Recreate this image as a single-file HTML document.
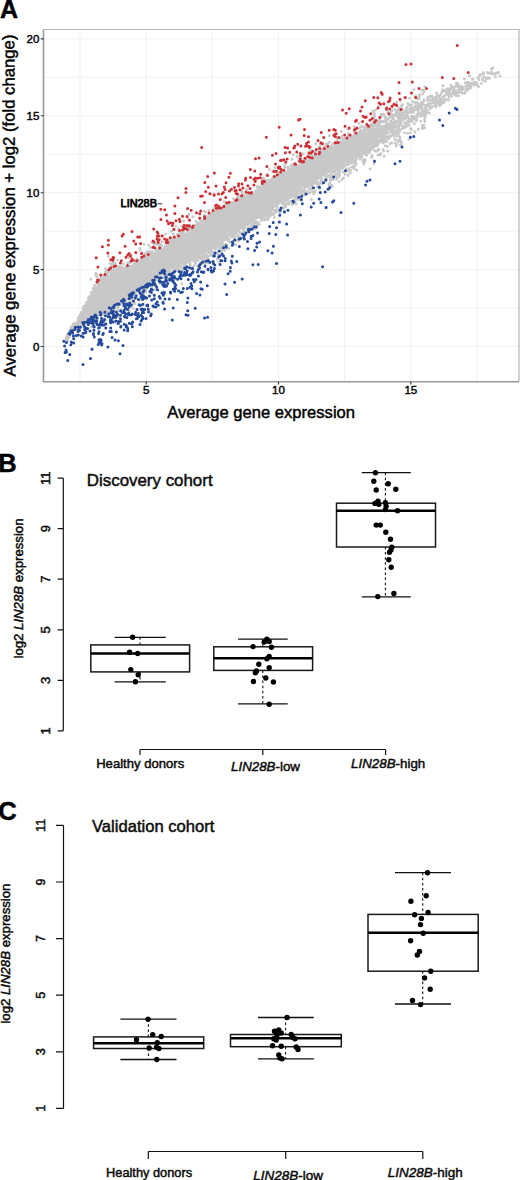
<!DOCTYPE html>
<html><head><meta charset="utf-8"><style>html,body{margin:0;padding:0;background:#fff;width:520px;height:1180px;overflow:hidden}svg{display:block}svg,text{font-family:"Liberation Sans",sans-serif}text{stroke:#000;stroke-width:.45px;stroke-linejoin:round}</style></head>
<body><svg width="520" height="1180" viewBox="0 0 520 1180">
<path d="M43.5 346.5H519M43.5 308.1H519M43.5 269.6H519M43.5 231.1H519M43.5 192.7H519M43.5 154.2H519M43.5 115.8H519M43.5 77.3H519M43.5 38.9H519M80 29.5V381.8M146.2 29.5V381.8M212.3 29.5V381.8M278.5 29.5V381.8M344.6 29.5V381.8M410.8 29.5V381.8M476.9 29.5V381.8" stroke="#f1f1f1" stroke-width="1" fill="none"/>
<polygon points="68,336.7 70,333.2 72,330.5 74,327.8 76,325.1 78,321.6 80,317.4 82,313.3 84,309.4 86,305.9 88,302.4 90,298.9 92,295.2 94,291.2 96,287.6 98,285.3 100,282.9 102,280.8 104,279.4 106,277.9 108,276.4 110,274.9 112,274.1 114,273.8 116,273.5 118,273.3 120,272.7 122,272 124,271.3 126,270.6 128,269.9 130,269.2 132,268.1 134,266.9 136,265.8 138,264.7 140,263.5 142,262.4 144,261.3 146,260.1 148,258.9 150,257.8 152,256.6 154,255.5 156,254.4 158,253.3 160,252.2 162,251 164,249.5 166,248 168,246.6 170,245.2 172,243.9 174,242.6 176,241.3 178,240 180,238.7 182,237.4 184,236.1 186,234.8 188,233.6 190,232.3 192,231 194,229.7 196,228.2 198,226.8 200,225.3 202,223.8 204,222.3 206,220.9 208,219.4 210,217.9 212,216.5 214,215.5 216,214.4 218,213.4 220,212.3 222,211.3 224,210.2 226,209.2 228,208.2 230,207.3 232,206.3 234,205.3 236,204.3 238,203.4 240,202.4 242,201.4 244,200.4 246,199.3 248,198.3 250,197.3 252,196.2 254,195.2 256,193.9 258,192.4 260,190.9 262,189.4 264,187.9 266,186.4 268,184.9 270,183.4 272,181.9 274,180.7 276,179.6 278,178.5 280,177.4 282,176.3 284,175.2 286,174.1 288,173 290,171.9 292,170.8 294,169.7 296,168.8 298,167.9 300,167 302,166.1 304,165.3 306,164.4 308,163.5 310,162.6 312,161.6 314,160.4 316,159.2 318,158 320,156.8 322,155.6 324,154.4 326,153.2 328,152.1 330,151 332,149.9 334,148.8 336,147.7 338,146.6 340,145.5 342,144.4 344,143.4 346,142.4 348,141.3 350,140.3 352,139.3 354,138.2 356,137.2 358,136.1 360,134.8 362,133.9 364,133 366,132.1 368,131.3 370,130.4 372,129.5 374,128.6 376,127.7 378,126.9 380,126.2 382,125.4 384,124.6 386,123.9 388,123.1 390,122.3 392,121.5 394,120.7 396,119.9 398,119.1 400,118.3 402,117.6 404,116.8 406,116 408,115.2 410,114.4 410,114.4 408,115.8 406,117.2 404,118.7 402,120.1 400,121.6 398,123.1 396,124.6 394,126.2 392,127.7 390,129.3 388,130.8 386,132.4 384,134 382,135.5 380,137.1 378,138.7 376,140.3 374,142 372,143.7 370,145.4 368,147.1 366,148.7 364,150.4 362,152.1 360,153.8 358,155.1 356,156.3 354,157.3 352,158.4 350,159.4 348,160.4 346,161.5 344,162.5 342,163.5 340,164.3 338,165 336,165.8 334,166.5 332,167.2 330,167.9 328,168.6 326,169.3 324,170.6 322,171.8 320,173.1 318,174.4 316,175.6 314,176.9 312,178.2 310,179.5 308,180.8 306,182.1 304,183.4 302,184.7 300,186 298,187.3 296,188.6 294,189.9 292,191.1 290,192.4 288,193.6 286,194.8 284,196.1 282,197.3 280,198.5 278,199.7 276,201 274,202.2 272,203.5 270,204.8 268,206.1 266,207.5 264,208.8 262,210.1 260,211.5 258,212.8 256,214.1 254,215.5 252,216.8 250,218.1 248,219.5 246,220.8 244,222.1 242,223.5 240,224.8 238,226.3 236,227.7 234,229.2 232,230.6 230,232.1 228,233.6 226,235 224,236.5 222,237.9 220,239.4 218,240.8 216,242.2 214,243.6 212,245 210,246.5 208,247.9 206,249.3 204,250.4 202,251.6 200,252.7 198,253.8 196,255 194,256.1 192,257.2 190,258.3 188,259.2 186,260.1 184,261.1 182,262 180,262.9 178,263.8 176,264.6 174,265.3 172,265.9 170,266.6 168,267.2 166,267.8 164,268.5 162,269.7 160,271.5 158,273.4 156,275.2 154,277 152,278.9 150,280.7 148,282.5 146,283.8 144,284.9 142,286.1 140,287.2 138,288.4 136,289.5 134,290.7 132,291.8 130,293.3 128,294.7 126,296.2 124,297.7 122,299.1 120,300.6 118,302.1 116,303.3 114,304.2 112,305.1 110,306 108,306.9 106,307.8 104,308.7 102,309.6 100,310.7 98,311.8 96,313 94,314.2 92,315.3 90,316.5 88,317.6 86,318.8 84,320.1 82,321.4 80,322.7 78,324.1 76,325.4 74,326.7 72,328 70,330.3 68,334.1" fill="#c8c8c8"/>
<path d="M406.4 110h0M335.5 147.4h0M357.7 134.5h0M311.1 180.9h0M279.5 209.2h0M244.2 195.5h0M324.8 171h0M88.3 298.6h0M192.6 230.8h0M209 248h0M242.7 194h0M264.4 220h0M436.7 93.2h0M311.7 158.6h0M232.2 233.1h0M131.9 301.4h0M221.7 235.6h0M265.9 188.8h0M133.7 264.2h0M296.6 191.1h0M415.3 118.5h0M247.5 231.1h0M331.2 148.3h0M271.8 208h0M280.7 208.8h0M216.1 213h0M389.5 126.3h0M338.8 168.2h0M464.4 79.1h0M100.1 279.3h0M339.2 166.8h0M133.1 290.4h0M403 115.6h0M201.9 249h0M270.7 181.5h0M104.2 276h0M150.1 283.5h0M283.6 173.4h0M87.8 319.8h0M126.6 298.7h0M115.9 301.4h0M203.3 224.4h0M226.3 209.8h0M100 283.3h0M108.2 311.2h0M371.6 148.3h0M261.9 212h0M491 73.8h0M293.4 170.5h0M193.1 228.9h0M84.8 320h0M114.4 265.9h0M206.4 257.3h0M409 112.4h0M427 110.5h0M381.9 139.1h0M77.7 326.5h0M329.9 176.5h0M122.5 273.2h0M465.8 91h0M353.8 137.6h0M435 101.4h0M247.2 220.1h0M182 240.5h0M167.5 278.7h0M274.8 177h0M138.9 285.9h0M228.3 240.7h0M83.5 306.8h0M206 219.9h0M167.7 241.4h0M428 97.4h0M339.7 172.4h0M235.8 228.5h0M237.3 204.5h0M398 124.6h0M363.9 164h0M235.5 231h0M232.9 208.7h0M102.5 321.4h0M159.4 251.3h0M388.5 138.7h0M81.8 314.8h0M211.4 248.6h0M244.3 231.5h0M330.5 169.4h0M135 303.7h0M311.9 178.9h0M188.6 258.1h0M381.9 133.7h0M389.6 136.8h0M347.3 161.5h0M390.2 112.7h0M174.5 265.9h0M129.3 298h0M83.6 311.9h0M395.9 113.6h0M183.7 221.3h0M202.4 250.3h0M216.1 244.7h0M77.7 325.7h0M139.9 288.8h0M271.8 181h0M126.8 266.6h0M488.2 73.3h0M394.9 139.5h0M233.6 203.3h0M107.1 276h0M83.9 306.7h0M138.9 288.4h0M223.4 236.8h0M415.9 105.7h0M104.3 308.8h0M163.9 277.7h0M68.5 337.9h0M347.9 142h0M212.9 255.7h0M92.2 323.4h0M334.7 149.8h0M73.6 327.4h0M204.7 220.6h0M469.3 85.6h0M172.7 266.3h0M203.1 223.3h0M167.3 265.1h0M228.3 208.7h0M150.8 284.1h0M297.5 156.1h0M123.3 297.3h0M332.3 186.4h0M289.6 193.6h0M192.5 257h0M78.3 317.9h0M324.2 169.5h0M353 138.2h0M105.4 308.4h0M186.4 236h0M312 157.8h0M350.4 159.4h0M198.9 228.6h0M302.4 185.8h0M285.4 194.1h0M302.9 193.5h0M116.7 269.9h0M120.7 267.9h0M134 297h0M123.9 268.5h0M212.6 251.6h0M127.2 269.7h0M392.6 119.1h0M391.1 132h0M306.9 161.9h0M192.1 227.9h0M148.4 281.3h0M343.2 172h0M380 132h0M146.4 261.8h0M404.7 97.4h0M142.4 285.9h0M384.8 141.6h0M279.2 197.4h0M174.7 241.4h0M119.1 273.4h0M488.4 77.9h0M178.1 266.8h0M165.9 243.4h0M316.1 178.1h0M326 180.7h0M342.8 145.3h0M200.3 225.1h0M79.1 321.8h0M103.3 282h0M393.8 119.2h0M232.2 228.4h0M231.6 231.1h0M122.9 300.9h0M425.2 111.3h0M295.1 192.5h0M494.2 74h0M201.3 223h0M269.2 169.6h0M91.1 293.1h0M409.9 119.4h0M113.6 308.9h0M375.9 121.9h0M96.8 315.2h0M497.9 72.8h0M231.6 203h0M238.6 228.2h0M304.5 187.5h0M67.5 335.5h0M260.7 217.7h0M363.4 150.6h0M358.3 133.7h0M150.4 283.7h0M242 226.8h0M388.6 125.8h0M267.2 184.1h0M273.3 204.9h0M157.6 253.1h0M149 254.5h0M374.8 126.2h0M161 267.7h0M410.9 107.4h0M386.9 110h0M106.8 276.2h0M469.5 75.9h0M256.2 195.1h0M102.9 310.7h0M183.3 233.2h0M73.3 328.9h0M196.6 259h0M207 249.1h0M117.5 260h0M371.2 148.3h0M113.6 312.1h0M252.4 221.8h0M336.8 169.1h0M195.6 263.5h0M209.7 219.7h0M284.3 210.9h0M108.2 310.9h0M102 318.6h0M246.5 197.8h0M252 217.7h0M266.2 206.6h0M381.5 116.5h0M167.7 248.2h0M285.9 196.4h0M361.1 152.1h0M152.2 251.4h0M325.7 151.9h0M325 152.2h0M91.3 299.1h0M181.5 267.8h0M264 216.4h0M174.4 264.5h0M379.5 124.6h0M131.2 294.9h0M291.8 168.9h0M103.5 280.2h0M336 147.1h0M371.9 155.6h0M289 193.9h0M468.1 89.6h0M375.3 139.6h0M130.3 291.2h0M274.9 210.4h0M71.7 330.4h0M217.7 241.3h0M210.3 249.6h0M178.9 260.6h0M233.6 204.6h0M263 190.2h0M327.5 176.9h0M214.3 248.1h0M330.3 166.2h0M378.4 107h0M368.7 127.1h0M249.4 196.1h0M130.7 267.7h0M144.4 257.7h0M198.9 224.5h0M237.7 200.6h0M224 247h0M358 153.7h0M159.5 278.9h0M200 256.5h0M326.2 144.3h0M141.9 260.2h0M212.8 215.7h0M145.8 260.9h0M288.8 193.8h0M235.1 204.9h0M90 321.1h0M157.9 250.6h0M334.4 149.3h0M396.6 144.3h0M472.9 84.4h0M378.5 143.6h0M320.9 180.3h0M140.2 249.9h0M293.3 188.1h0M357.2 156.4h0M433.9 100.7h0M112.2 272.5h0M455.1 86.5h0M331.2 146.3h0M154.5 280.7h0M259.7 189.1h0M425.7 113.7h0M193.9 229.2h0M219.6 211.5h0M291.1 191.1h0M257.9 190.6h0M106.6 278.7h0M266 210.4h0M281 176.3h0M138.4 264.7h0M377 144.9h0M424.1 101h0M184.6 262.2h0M97.2 286.9h0M241.4 224.9h0M273.7 201.5h0M354.5 162.1h0M258.8 193.5h0M115.1 304.6h0M201.4 221.2h0M263 185h0M297.1 192.4h0M218.5 212.7h0M345.1 163.3h0M292.9 196h0M271.4 182.4h0M105.8 277h0M272.8 209.8h0M351.9 167.1h0M425.4 112.8h0M141.6 289.4h0M258.5 217h0M83.3 308.6h0M152.5 256.7h0M402 118.7h0M77.7 327.8h0M370.9 147.6h0M133.1 304.3h0M365.5 134.4h0M109.5 278.6h0M407.5 121.4h0M432.9 97.7h0M171.1 242.1h0M222 249.9h0M352.8 160.6h0M301.6 185.2h0M371.2 119.8h0M317.7 179.1h0M250.7 196.3h0M97.2 283h0M128.6 270h0M269.8 205.7h0M161.9 271.4h0M94.7 285.8h0M231.9 237.3h0M418.8 108.3h0M209.8 249.7h0M293.4 190.7h0M380.1 132h0M289.5 192.8h0M209 210.6h0M386.2 138h0M166.3 265.4h0M302 185.7h0M271.8 202.2h0M194.8 255.2h0M295.2 169.3h0M328.8 153.4h0M409.5 105.1h0M141.3 265.8h0M305.7 158.2h0M180 264.4h0M152.1 257.1h0M80.4 325.1h0M219.8 236.6h0M231.9 236.2h0M281 176.6h0M297.8 166.4h0M398.2 127.7h0M430.2 96.1h0M149 283.3h0M315.6 177.8h0M337 144.4h0M421.6 105.4h0M203 250.3h0M194.2 259.5h0M216.1 211h0M375.9 137.3h0M111.2 270.2h0M351.1 138.8h0M70.1 330.4h0M99.2 281.3h0M349.2 141.1h0M156.2 279.3h0M333.2 165.3h0M72 326.4h0M347.8 174.6h0M255.4 228.7h0M297.2 166.9h0M168.1 247.1h0M285.3 175.4h0M134.8 293h0M120.8 300.3h0M432.2 96.4h0M299.8 187.4h0M237.8 201.6h0M341.5 145h0M379.8 117.7h0M112.5 275h0M258 224.3h0M163 267.3h0M214 246.9h0M388.8 125.3h0M311.3 178.7h0M86 320.8h0M432.4 106.7h0M401.2 110.8h0M202.2 251.4h0M331.6 169.6h0M92.6 315.6h0M337.3 177.3h0M290.5 201.2h0M198 228.5h0M241.9 197h0M297.4 189.9h0M296.5 169.6h0M301.4 190.6h0M159.9 250.4h0M198.3 255.7h0M264.6 213.2h0M181.1 239.9h0M135.6 292.2h0M303.8 183.7h0M365.2 153.8h0M99.1 313.9h0M199.6 227.8h0M261.6 187.7h0M179.7 270.4h0M171.6 245h0M238.3 235.6h0M134.9 263.8h0M192.2 231.1h0M356.1 163.8h0M163.2 270.5h0M327.4 166.4h0M231.5 236.7h0M164.7 249h0M407.6 133.4h0M401.8 144.3h0M365.9 150.2h0M195.9 257.7h0M318.1 176.4h0M292.1 168.6h0M336.6 147.5h0M127.8 305.4h0M287.7 195.8h0M339.1 166h0M113.7 306.1h0M253.2 223.3h0M182.7 235.4h0M333.7 171.2h0M258.5 210.7h0M279.9 177.1h0M303.6 183.9h0M379.5 120.5h0M432.4 99.8h0M268.6 181.5h0M84.4 310.4h0M287.2 197.8h0M229.4 208.9h0M386.6 133.6h0M198 260.5h0M298.9 189.6h0M258.1 215.4h0M262.2 188.6h0M260.1 212.1h0M308.5 179.8h0M358.5 155.9h0M435.2 105.7h0M191.3 232.8h0M326.6 149.5h0M109 276.5h0M321.5 150.2h0M253.4 214.2h0M96.2 315h0M94.8 291h0M95.2 287.9h0M126.1 268h0M217.9 238.6h0M274.3 217.5h0M125.6 293.8h0M401.4 125.1h0M300.5 193.7h0M437.5 100.3h0M441.8 99.2h0M277.5 175.8h0M177.9 239.9h0M218.4 247.6h0M108.3 305.3h0M228.3 235.6h0M313.9 183.5h0M265.4 207.9h0M329.7 151.2h0M365.1 132.7h0M210.8 251.3h0M326.2 172.6h0M292.3 171.6h0M307.6 186.9h0M341 145h0M360.8 127h0M263.8 211.6h0M422.9 128.3h0M270.2 180h0M462.7 87.2h0M369 151h0M357.7 156.2h0M273.7 171h0M341.5 145.4h0M322.8 155.5h0M185.1 234.2h0M290.3 195.6h0M338.2 145.4h0M272.5 181.3h0M284.5 175.5h0M71.2 330.4h0M85.9 320.1h0M489.4 78.1h0M173.2 266.2h0M101.9 281.7h0M186.6 260.4h0M283 202.1h0M74.7 326.6h0M76.7 326.1h0M198 257.1h0M206.8 254.9h0M309 179.7h0M185.2 260.1h0M338 165.2h0M324.6 146.6h0M228.2 210h0M97 311.8h0M149.2 260.7h0M417.4 106.4h0M207.8 218.2h0M418.4 111.9h0M309.9 181.4h0M136.4 263.9h0M356.4 134.3h0M142.3 288.1h0M102.1 310.6h0M447.2 91.3h0M186.1 236.1h0M418.1 106.1h0M98 313.8h0M308.7 185.7h0M211.3 215.3h0M192.9 259h0M203.1 228.3h0M310.1 183.6h0M419.5 105.5h0M332.7 168.4h0M69.3 335.5h0M341.8 168.4h0M233.7 203.5h0M143.5 261.1h0M274.6 181.8h0M149.2 280.1h0M162.6 291.5h0M244.4 200.4h0M199.7 253.7h0M327.8 151.1h0M91.8 319.6h0M288.6 194.4h0M210.1 251.8h0M282.2 199.7h0M270.7 213.4h0M208.1 258.1h0M239.4 223.9h0M223.9 208.1h0M215.1 246.1h0M230.2 206.2h0M362.3 133h0M94.2 294.7h0M254.3 214.5h0M334.2 147.3h0M210 245.6h0M377.7 144.9h0M251.5 226.5h0M277 179.2h0M195.8 221.4h0M282.7 174.7h0M179.6 264h0M333.9 170.8h0M379.4 132.8h0M393 123.5h0M362.2 133.6h0M311.8 186.9h0M220.5 239.4h0M184.4 234.2h0M412.2 109.9h0M301 189.6h0M137.5 289.9h0M277 171.4h0M195.4 225.3h0M269 183.9h0M280.1 202.3h0M216.9 244.9h0M164.5 268.8h0M187.7 259.1h0M333.6 167.5h0M356.4 137.5h0M304.8 183.9h0M174.3 265.9h0M193.5 230.3h0M259.5 214.7h0M192.9 228.9h0M82.6 325.8h0M179.5 265.5h0M456.3 90.4h0M348.5 140.9h0M366.1 129.9h0M330.4 181.1h0M121.9 301.4h0M237.3 197h0M314.1 177.8h0M323.4 171.5h0M428.7 104.7h0M326.5 151.2h0M211.5 244.9h0M365.2 150.4h0M113.1 261.2h0M118.1 275.5h0M348.8 160.8h0M226.7 244.6h0M308.3 181.2h0M399 111.9h0M120.5 302.2h0M196.4 258.4h0M70.2 331.9h0M294.4 200.2h0M349.3 168.4h0M131 271h0M96.6 290.1h0M226.9 236.7h0M338.9 145.4h0M169.6 264.8h0M245.8 197.4h0M95 317.6h0M86 316.3h0M397.3 131.2h0M367.3 149.9h0M370.2 125.6h0M111.3 311.5h0M132.5 270.1h0M79.8 321.3h0M353.1 137.9h0M429.5 113h0M311.5 185.2h0M350.8 170.4h0M101.7 277.8h0M285.9 199.1h0M221.7 243.7h0M368.2 129.7h0M211.3 194h0M341.3 167.9h0M409.3 119.4h0M191.4 229.3h0M264.6 184.1h0M448.6 94.7h0M142.2 252.6h0M251 228.4h0M304.6 163.8h0M190 258h0M145 258.4h0M372.1 148.8h0M357.3 138.9h0M325.1 152.1h0M154 256.5h0M329.9 163.6h0M392 131.5h0M233.9 229.6h0M119.6 270.4h0M373.8 134.4h0M319.4 146.6h0M75.8 325.3h0M158.7 274.2h0M347.6 138.1h0M458.9 88.8h0M156.1 249.7h0M346 161h0M278.3 199.5h0M120.8 270.8h0M423.1 112.8h0M270.1 183.5h0M145 254h0M94.6 292.5h0M239.5 195.7h0M96.6 286.9h0M296.5 195.5h0M380.4 136.9h0M439.6 105.7h0M264.2 178.6h0M135.7 266.1h0M339.6 165.1h0M216.7 252.6h0M262.5 210h0M330.7 179.2h0M342.3 138.7h0M369.2 126.4h0M129.7 295.3h0M348.2 164.9h0M163.4 250.5h0M310.2 180.2h0M197.9 253.7h0M210.9 252.9h0M280.7 179.2h0M298.5 168.3h0M130.9 290.5h0M496.1 73.2h0M82.7 321.3h0M143.3 293.6h0M153.6 256.5h0M222 248.5h0M171.5 231.2h0M111.2 273.5h0M309.9 151h0M299.2 190.3h0M338.2 174.2h0M399.5 136.7h0M328.7 148.6h0M159 249.7h0M297.3 191.6h0M276.8 212.1h0M269.5 211h0M234 231.7h0M173.6 243.6h0M161.5 269.9h0M349 142.8h0M212 244.2h0M134.1 293.6h0M335.9 167h0M70.3 331.7h0M381.8 122.3h0M81.3 312.4h0M354.1 168.8h0M376.3 125.1h0M318.1 157.1h0M211.1 246.7h0M205.5 253.8h0M305 193.1h0M366.1 124.1h0M288.1 195.5h0M331.4 174.2h0M266 190.7h0M358.5 155.4h0M364.5 134.4h0M235.6 203.9h0M208.6 215.9h0M212.3 215.1h0M386.3 118.2h0M410.5 128.5h0M381.6 131.7h0M299 187.3h0M164.5 268.2h0M257.2 192.4h0M113.6 259.8h0M388 151.1h0M171.6 238h0M247.3 222.8h0M224.6 237.9h0M410.2 137.3h0M222 208.6h0M342.7 162.1h0M159.6 249.1h0M326.6 154.6h0M365.7 152.1h0M167.9 272.9h0M168.1 244.7h0M467.8 83.7h0M291 171.5h0M151.3 255.2h0M359.4 128.4h0M143.2 262.5h0M320.4 176.7h0M261.2 215.9h0M264.1 206.2h0M347.2 163.1h0M195.7 225.7h0M147.3 251.8h0M228.5 205.4h0M283.3 175.5h0M173.2 243h0M154.4 277.4h0M359.8 133.9h0M440 101.6h0M373.5 125.4h0M228 238.8h0M422.1 102.8h0M111.3 266.2h0M323.1 183.1h0M88.5 304.9h0M343.2 143.9h0M80.6 315.1h0M295.7 199.3h0M439.2 101.9h0M429.1 112.8h0M365.2 133.9h0M229.7 241.8h0M475.2 82.3h0M239 203.8h0M285.9 175.3h0M413.3 112.4h0M388.2 137.5h0M345.3 139.9h0M319.5 177.6h0M354.9 133.4h0M297.6 188.8h0M225.1 207.3h0M150.2 280.4h0M151.4 255.8h0M104.5 306.4h0M260.5 209.7h0M395.4 132.1h0M422.3 125.4h0M131.4 292.9h0M91 318.2h0M211.8 262h0M113.6 308.2h0M95.9 276.1h0M307.8 164.5h0M323.7 154.7h0M188.4 261.3h0M115 263.1h0M274.7 212.6h0M108.9 309.8h0M255.8 217.7h0M130.6 262.2h0M76 325.3h0M258.9 209.8h0M377.3 140.6h0M100.3 284.2h0M356.1 135.1h0M255 220.9h0M266.1 175.3h0M380.9 140.6h0M350.4 173.1h0M343.1 165.8h0M93.3 293.9h0M341.4 131.5h0M449.2 92.8h0M277.2 207.2h0M185.8 234.9h0M353.7 162.4h0M304.6 183h0M120.3 304h0M116.2 303.4h0M442.3 100.4h0M267.2 186.6h0M309.4 183.6h0M77.3 322.6h0M224.9 234.6h0M182.4 238.4h0M356.9 136.6h0M337.4 166.5h0M149.3 279.4h0M106.3 308h0M108.5 311.7h0M163.5 265h0M187.4 230.5h0M108.3 273.3h0M256.6 192.5h0M131.6 293.3h0M117.4 273.7h0M323.5 169.3h0M69.2 336.4h0M74.6 329.8h0M368.6 127.6h0M299.3 168.1h0M465.2 83h0M307.4 193.7h0M222.7 239.5h0M249.2 216.5h0M366.8 148h0M422 90.3h0M480 75h0M380.9 121.2h0M364.2 153.2h0M140.9 287.3h0M338.7 166.2h0M250.5 221.4h0M350 162.8h0M98 283.3h0M414.1 89.6h0M456.2 83.6h0M361.3 154.4h0M169.9 247.2h0M246.4 192.9h0M151.6 283.9h0M235.6 229.2h0M117.4 306.7h0M388.5 118.6h0M399.3 117.9h0M362.8 131.6h0M401.4 106h0M424.6 119.8h0M114.8 264.6h0M246.5 222.9h0M292.7 169.6h0M274.8 172h0M313.2 158.5h0M276.3 202.7h0M241.4 226.9h0M93 288.4h0M78.7 325.3h0M377.9 144.2h0M90.3 296.2h0M355.1 160.3h0M73.2 329.1h0M73 326.9h0M275.4 201.6h0M430.2 100.6h0M153.4 252.9h0M153.9 278.5h0M219.6 214.4h0M297.4 189.1h0M312.9 179.5h0M374.4 124.9h0M142.4 258.1h0M176.2 240h0M136.5 290.1h0M489.4 78.4h0M315.2 191.3h0M364.5 151.6h0M116.4 273.9h0M349.2 161.1h0M251.2 227.6h0M289.9 168.6h0M390.4 123.4h0M466.5 88.6h0M118.9 271.7h0M363.2 151.9h0M440.8 94.5h0M372.9 146.4h0M247.1 195.5h0M327.5 165.3h0M245.3 200.1h0M280 199.2h0M311.3 160.8h0M259.1 215.3h0M305.1 186.5h0M426.5 106.9h0M72.9 329.4h0M103.3 312.3h0M229.1 238.8h0M222.2 238.9h0M273.9 205.2h0M75.2 325.9h0M165.3 247.5h0M296.2 203.9h0M275.8 203.1h0M299.7 185.8h0M208.3 256.2h0M448 100.2h0M175.8 241.5h0M287.3 194.9h0M390.6 115.7h0M139.2 287.1h0M256.9 215.6h0M84 317.6h0M68.1 337.3h0M365.4 127.1h0M107.4 316.6h0M75.9 326.3h0M258.8 191.5h0M238.6 238.8h0M261.4 192.3h0M170.4 266.3h0M226.2 207.9h0M411.4 104.6h0M211.5 214h0M470.4 86h0M325.3 151.5h0M436 97.2h0M317.8 159h0M142.8 259.6h0M426.7 112.9h0M460.9 86.3h0M416 109.6h0M81 313.5h0M208.1 217.5h0M66.4 339.8h0M305.1 163.6h0M243.7 200.9h0M189.7 258.5h0M129.3 297h0M125.9 267.5h0M306.7 161.6h0M219.4 244h0M68.2 334.9h0M206.9 259.8h0M424.9 112.9h0M281.2 176.2h0M369.9 150.9h0M298.7 189.6h0M259.1 209.2h0M225 238.9h0M136.2 265h0M315 156.9h0M146.3 283.1h0M401.1 141.8h0M104.7 310.4h0M418.3 129.5h0M91.3 292.2h0M405.7 112.3h0M286.1 174.2h0M256 221.5h0M301 200.2h0M354.3 135.7h0M90.3 299h0M295.3 194.1h0M322.8 153h0M313 160.3h0M348.2 144.5h0M199.3 253.1h0M355.2 154.1h0M174.2 270.3h0M438.3 103.4h0M348.4 140.7h0M306 184.6h0M343.4 178h0M205.6 222.5h0M396.9 132h0M223.9 206h0M306.7 182.2h0M116.8 273.2h0M373.5 145.7h0M347.9 136.7h0M286.5 194.7h0M129.4 310.7h0M197.1 224.1h0M355.3 138.9h0M190.7 231.7h0M97.2 310.8h0M458.7 95.9h0M273.3 181.8h0M179.1 230.3h0M224.1 238.6h0M235 237.1h0M264.2 210.9h0M230.1 207.7h0M87.2 306h0M437.3 101.1h0M96.6 315.1h0M221 238.7h0M289.1 197.7h0M338.6 177.3h0M301.5 185.2h0M322.9 172.7h0M241.2 202.1h0M180.3 265.2h0M382 115.8h0M174.6 266.9h0M292.8 204.3h0M201.3 222h0M467.3 86h0M102.7 311.8h0M149.7 280.7h0M132.5 294.8h0M150.6 259.3h0M333.4 170.5h0M209.3 220.4h0M206 250.9h0M254.1 196.2h0M124 296.3h0M117.4 269.4h0M216.9 240.1h0M148.2 258.9h0M188 259.9h0M165.3 249.3h0M368.8 129.8h0M204 215.1h0M232 236h0M191.8 233.6h0M328.5 170.9h0M123.2 268.6h0M186.7 235.2h0M271.2 213.8h0M108.7 306.9h0M254.6 194.7h0M307.7 180.5h0M318.3 187.9h0M124.8 298.4h0M315.3 177.1h0M110.3 307.2h0M261.1 190.5h0M186.6 262.6h0M295.9 196.2h0M413.9 102.1h0M121.6 299.9h0M204.3 211.2h0M419.2 95.9h0M338.7 172.1h0M272.5 203.1h0M200.9 252.1h0M129.2 269h0M363.8 131.3h0M409.6 98.2h0M329.4 183.5h0M340.3 138.4h0M197.4 223.2h0M218.4 254.9h0M103 310.7h0M243.7 228.8h0M446.5 93.6h0M353.8 136.9h0M254.9 193.8h0M378.9 123.6h0M110.8 276.8h0M322.6 154.9h0M186.6 233.8h0M331.1 151.7h0M248.9 200.8h0M211.3 214.7h0M80.4 316.7h0M167.2 271.5h0M288.3 193.5h0M252.4 195.8h0M348 142.7h0M287.1 203.7h0M479.1 79.7h0M171.1 241.1h0M150.6 255.7h0M251 192.8h0M185 238.4h0M124.7 270.5h0M291.4 190h0M136.2 266.8h0M210.7 216.8h0M344.9 162.2h0M192.5 259.1h0M309.7 165.4h0M137.2 289.3h0M184.9 235.6h0M81.7 325.8h0M395.1 109.4h0M294.5 194h0M150.9 281.1h0M240.2 228.4h0M159.1 273.8h0M356 139.2h0M105.4 268.7h0M163.3 250.3h0M97.2 314.4h0M176.5 239.7h0M373.9 136.8h0M273.4 178.3h0M140 289.5h0M134.4 265.3h0M387.6 146.4h0M79.1 317.7h0M169.4 273.8h0M229.7 210.4h0M320 154.8h0M241.5 197.7h0M286.1 200.8h0M261.8 218.2h0M165.1 272.2h0M397.2 133.6h0M307.9 184.9h0M117.1 271.5h0M153.8 279.7h0M172.5 240.4h0M352.9 139.8h0M85 322.1h0M295.7 168.7h0M290.7 195.6h0M245.8 224.2h0M255 213.6h0M209.9 246.9h0M322.2 174.9h0M382.9 135.8h0M236.9 202.9h0M317.4 177.6h0M129.3 262.8h0M243.6 198.1h0M143 288.2h0M97.9 315.4h0M163 235.4h0M126 271.1h0M330.3 177.8h0M305.4 164.5h0M233.6 198.7h0M121 271.2h0M93.5 291.1h0M72.4 326.2h0M376.2 131.3h0M303 164.4h0M175.6 265.1h0M73.9 327.3h0M318.8 176.5h0M124.8 267.8h0M348.8 142.9h0M164.6 248.3h0M271.6 214.8h0M344.7 138.7h0M279.8 198.5h0M241.6 224h0M343.2 139.7h0M421.1 108.2h0M201.6 221h0M305.8 163.7h0M139.6 265.2h0M365.4 154.5h0M217.6 245.6h0M308.4 164.4h0M250.7 217h0M164.5 268h0M315.4 157.3h0M127.1 269.8h0M162.6 249.4h0M426.4 111.1h0M175.5 240.2h0M192.6 257.4h0M91.6 321.6h0M341 162.4h0M162.6 270.8h0M150.1 259.6h0M177.6 264.5h0M238.4 204.6h0M154.5 255.7h0M151.5 285.6h0M450.9 85.3h0M483.6 73.7h0M387.2 126.7h0M74.3 325.9h0M315.4 179.5h0M215.7 213.8h0M89.1 319.3h0M72.2 330.8h0M121.1 301.9h0M275.2 176.4h0M261.3 189.2h0M211.2 250.3h0M110.9 309.2h0M240.7 224.8h0M375.3 121.9h0M222.4 210.3h0M352.6 166.9h0M303 153.9h0M359.1 131.9h0M80.4 325.5h0M269.8 204.6h0M286.6 195.5h0M204.8 257.1h0M303.1 164.8h0M340.9 166.8h0M248 199.5h0M204.8 224.6h0M362.4 132.7h0M226 209.7h0M160.6 253.4h0M366.4 127.5h0M346.3 163.6h0M374.6 144.5h0M223.6 208.3h0M228.6 207.9h0M256.5 214.8h0M123.4 263.9h0M396.4 112.3h0M396.8 112.7h0M171.4 240h0M233.3 203.5h0M449 89.4h0M326.9 153.2h0M308.6 184.2h0M120.1 271.5h0M194.5 229.7h0M366.5 141h0M360.2 153.3h0M309 160.1h0M366.8 129.7h0M327.8 172h0M286 174.2h0M379.7 121h0M263.2 188.2h0M190.1 231.3h0M111.3 305.7h0M332.6 166.7h0M94 315.9h0M252.4 219.9h0M142.7 285.5h0M253.7 195.7h0M314.6 159.8h0M167.1 243.2h0M128 296.3h0M236 244.7h0M127.1 298.5h0M291.9 170.7h0M116.1 272.3h0M139.4 261.9h0M359 134.5h0M382.4 139.7h0M450.9 94.5h0M252.3 194.2h0M419.2 112.9h0M244.6 200.5h0M191.2 258.1h0M352.9 138.5h0M129 302.9h0M206.7 251h0M245.3 225.1h0M161.7 272.8h0M220.3 209.6h0M386.8 141.5h0M392.7 128.5h0M366.7 152.6h0M249.7 228.2h0M207.5 216.6h0M327.6 143.5h0M228.1 207h0M157.9 252.3h0M454.1 94.2h0M102.1 278h0M199.3 252.2h0M302.3 164.8h0M274 177.8h0M178.1 265.3h0M237.1 207.5h0M355.9 160.7h0M472.2 79.5h0M147.8 257.4h0M231.7 232.8h0M183.6 235.6h0M120.1 299.8h0M225.6 236.8h0M274.9 178.5h0M243.3 224.1h0M186.7 228.3h0M307.1 165.2h0M67.8 339.3h0M374.9 146.2h0M468.1 82.2h0M385 141.9h0M102.1 311.5h0M150.6 261.1h0M359.1 133.4h0M303.9 183h0M391.7 127.7h0M89.3 303.2h0M237.9 203.1h0M214.6 215h0M113.8 272.1h0M221.1 246.1h0M314.4 178.7h0M424.7 108.3h0M74.7 328.4h0M175.8 242.1h0M378.5 141.9h0M268.7 206.6h0M177.8 266.3h0M347.8 137.6h0M202 258.7h0M325.5 176.3h0M256.6 217.3h0M297.2 192.2h0M271.5 210.2h0M267 183.3h0M135 261.3h0M254.3 215.4h0M337.4 164.8h0M121.1 311.1h0M340 168h0M415.7 102.8h0M354.8 137.3h0M155.9 249.5h0M90.6 314.3h0M130.9 254.6h0M121.2 299.3h0M408.9 139.3h0M411.1 111.3h0M227.3 209.3h0M183.5 264.6h0M312.4 160.1h0M271.3 205.4h0M123.5 299h0M290.2 169.5h0M245.9 223.6h0M131.1 266.7h0M201.2 223.6h0M170.8 264.7h0M94.4 317.6h0M169.7 246.8h0M323.7 174.4h0M333.8 172.2h0M234.9 206.6h0M199.3 252.7h0M406.4 126.3h0M310.5 179.4h0M374.8 145.3h0M188.6 260.6h0M315.3 181.7h0M290.7 197.8h0M300 186.9h0M401.2 112.4h0M72.7 330.3h0M280.6 173.5h0M275.4 179.3h0M203.9 259.8h0M180.1 236.6h0M260.9 187.1h0M214.3 208h0M352.4 138h0M207.6 247.3h0M379.9 120.7h0M438.3 100.8h0M242.1 200.4h0M385 139.9h0M238.7 197.8h0M181.2 233.4h0M405.9 124.9h0M166.6 249.8h0M243.4 229.9h0M107.7 277.4h0M265 208.5h0M329 169.1h0M393.7 105.1h0M81.7 322.2h0M423.6 90.2h0M326.1 178.3h0M117.7 268.5h0M95.8 313.6h0M262.2 188h0M73.8 328.8h0M460.7 87.4h0M301 186.8h0M277 180.1h0M238.8 225.7h0M194.9 227.8h0M198.7 225.5h0M67.5 334.4h0M186.5 236.8h0M338.7 171h0M311.1 161.4h0M168.8 264.4h0M107 305.7h0M71.5 330.6h0M236.8 198.8h0M136.5 266.2h0M254.7 215.5h0M332.7 168.2h0M350.4 159.6h0M175.8 267.4h0M229.2 207.4h0M367.8 149.6h0M105.3 278.7h0M299.3 190.7h0M405.1 111.2h0M148.1 261.6h0M268.1 182.9h0M185.9 234h0M471.6 83.3h0M235 232.3h0M423.5 90.6h0M209 219.7h0M148.2 254.3h0M314.5 160.1h0M275.4 175.9h0M173.3 234.1h0M166 248.2h0M253 216h0M128.2 270.1h0M298 188.2h0M154.1 281.1h0M218.4 240.4h0M266.2 185.4h0M371.9 119.1h0M285.5 206.2h0M307.1 165.3h0M127.8 296.7h0M402.7 126.5h0M461 91.5h0M226.9 208.7h0M189.3 225.3h0M378.1 123.6h0M204.2 251.9h0M71.1 330.8h0M382.3 140h0M73.4 323.6h0M200.8 225.5h0M287.2 171.9h0M106.3 310.5h0M278.7 200h0M238.2 236.3h0M119.1 268.9h0M414.7 106.5h0M69.6 330.6h0M233.2 236.3h0M226 208.9h0M242.2 201.1h0M272.9 208h0M282.2 176.4h0M383.7 138.7h0M498.6 72.5h0M392.4 107.3h0M118.8 269.6h0M378 154.9h0M334.3 176.2h0M109.8 276.5h0M137.4 264.3h0M444.6 100h0M126.3 304.2h0M312.8 183.1h0M89.8 298.9h0M190.3 265h0M253.3 195.8h0M197.6 252.3h0M376.2 151.4h0M122.4 302.4h0M242.8 201.2h0M448.8 97.1h0M451.2 87.9h0M266.9 218.9h0M158.7 273.8h0M215.2 244.7h0M316.7 182h0M264.9 212.7h0M214.1 242.3h0M371.6 127.9h0M325.6 175.7h0M257.9 222.2h0M412.7 118.9h0M138.4 290h0M77.4 326.5h0M108.8 308.8h0M97.1 276.8h0M224.5 205.6h0M339.7 166.3h0M222.2 208h0M110.2 276.1h0M423.5 105.1h0M394.5 124h0M142.8 286.8h0M406.6 116.9h0M109.1 305h0M220.1 208.3h0M379 141h0M127.8 268.6h0M253.1 198.4h0M201.4 227.1h0M445 95.6h0M226.2 203.5h0M400.9 115h0M162.7 251.2h0M182 234.7h0M105 309.9h0M206.5 250.8h0M100.4 281.5h0M366 150.9h0M155.5 277.6h0M443.3 91.4h0M213.9 245.5h0M251.2 192.9h0M278.3 203.9h0M320.6 173h0M83.9 318h0M418.2 99.1h0M486.2 79.2h0M370.9 126.6h0M203.2 260h0M219.3 214.8h0M321.1 155.4h0M257.6 213.1h0M213.9 244.3h0M313.3 177.1h0M453.1 92.8h0M120.6 300.6h0M377.1 125h0M406.8 107.9h0M491.3 69.3h0M270.5 182.3h0M202.7 256.7h0M353.9 126.6h0M417.2 114.8h0M101.2 311.7h0M348.3 171.1h0M66 338.7h0M349.9 161.9h0M108.8 306.9h0M151.7 287.3h0M152.3 293.6h0M320.5 155.5h0M107.6 305.5h0M197.4 250.5h0M154.8 280.4h0M154.5 258.3h0M476.8 84.9h0M278.7 199.6h0M186.2 259.4h0M323.2 171h0M428.1 98.1h0M66.4 338.5h0M196 226.9h0M294.6 170.9h0M339.7 144.4h0M238.5 240.7h0M246.2 200.6h0M158.9 248.4h0M387.4 128h0M278.9 177.7h0M332.5 178.8h0M329.3 166.4h0M337.4 146.2h0M242.4 191.6h0M351.6 141.1h0M172.2 243h0M292.2 190.7h0M237.1 202.2h0M256.6 225.3h0M133.7 293.5h0M227.6 238.8h0M354.8 135.7h0M219.4 255.6h0M301.4 162.6h0M75.5 327.2h0M165.1 269.9h0M115.3 270.7h0M269.8 184.9h0M176.3 268.3h0M309.2 182.5h0M283.9 195.5h0M88.5 318.1h0M98.9 312.4h0M204 251.3h0M282.1 200.7h0M112.6 304.6h0M242 192.7h0M320.7 144.3h0M208.3 246.9h0M370.8 127.4h0M165.9 265.8h0M144 260.2h0M125.8 297.7h0M398 116.7h0M376.7 125.6h0M403.8 126.7h0M91.1 317h0M226.5 205.4h0M124.2 272.2h0M332.9 149.6h0M410.1 109.8h0M314.1 177.8h0M93.5 315.5h0M128.9 294.9h0M288.8 204.3h0M153.9 285.6h0M313.8 160.4h0M221.9 208.2h0M318.9 156.9h0M206.6 256.4h0M268.9 205.8h0M345 139h0M188.6 230.2h0M220.7 212.5h0M316 155.5h0M396.7 102.3h0M419.4 98.4h0M333.5 163.9h0M383.1 137.4h0M178.5 234.3h0M165.7 234.1h0M248.9 193.5h0M189.4 262.5h0M299.8 167.5h0M82.7 321.1h0M267.2 210.5h0M323.4 169.4h0M78.3 322.9h0M273.3 179h0M170.3 270.7h0M190.6 233.3h0M423.3 112.5h0M222.3 245.8h0M413.9 116.1h0M232.1 231.7h0M159.5 275.9h0M237.6 231.2h0M242.4 200.5h0M239.5 197.1h0M300.5 187.5h0M268.6 217.1h0M174.1 264h0M145.4 285.7h0M184.1 269.9h0M104.6 308.5h0M158.4 251.6h0M166.5 269.3h0M224.8 250.4h0M351.2 137.4h0M178.2 234.2h0M303.1 164.4h0M362.1 133.4h0M343.3 167.6h0M159.3 246.1h0M446.5 90.8h0M116.6 304.6h0M78.4 319.5h0M322.6 154.8h0M351.1 159.2h0M304.6 190.7h0M269.1 214h0M307.3 182.3h0M348.3 133.5h0M452.2 87h0M384.5 138.5h0M401.1 122.2h0M233.7 231.2h0M470.3 83.4h0M180.9 237.5h0M71.8 329.8h0M82.7 312.6h0M100.8 281.8h0M351.6 163.4h0M251.4 216.8h0M438.3 101.3h0M400.2 115.1h0M212.3 215.1h0M122.3 272.5h0M370.1 169h0M203.3 262.3h0M183.3 262.6h0M89.1 297h0M272.7 204h0M400.5 110.6h0M250.5 220.4h0M214.2 242h0M138.1 289.6h0M119.9 304.6h0M297.5 165.9h0M482.6 78.1h0M269.5 207.5h0M216.4 253.2h0M287.8 167.3h0M88 323.8h0M214.2 253.8h0M99 285.3h0M415 106.4h0M200.6 263.9h0M156.6 273.6h0M208.6 251.3h0M100.9 283.7h0M188.9 230h0M105.4 320.1h0M176.4 278.9h0M310.4 185.4h0M296.5 184.7h0M220.8 209.2h0M274.3 180.6h0M208.4 251.1h0M194.3 228.9h0M252.8 226.9h0M395 143h0M362.9 162h0M319.3 183h0M130.3 266.2h0M180.1 233.8h0M132.5 269.6h0M91.2 316.1h0M278 178.7h0M103.1 278.6h0M266.1 206.8h0M356.4 136.2h0M285.2 175.4h0M307.6 161.5h0M151.2 252.1h0M160.6 271.9h0M109.4 308.9h0M68.8 335.4h0M126.2 269.5h0M403.1 113.2h0M276.3 203.1h0M143.9 244.3h0M130.8 295.5h0M176.5 239.5h0M81.3 316.8h0M342.9 165h0M214.3 244.5h0M184.6 265.4h0M372.5 146.8h0M317.4 158.7h0M391.5 122.1h0M95 288.4h0M343.3 144.5h0M303.9 162.1h0M359.9 159.2h0M67.1 335.9h0M252.3 200.1h0M108.4 276.8h0M267.1 185.9h0M342.6 145.1h0M68 338.7h0M177.2 266.4h0M228.1 204.5h0M137.9 265.6h0M232.5 233.3h0M417.9 105.6h0M289 170.3h0M168.9 266h0M418.5 103.8h0M204.2 218.3h0M304.2 195h0M375.1 143h0M208.7 252.2h0M105.3 309.2h0M153.9 244.5h0M400.3 145.1h0M134.4 287.5h0M125.8 270.3h0M157 272.4h0M321.4 171.4h0M170.7 244.9h0M400.6 116.2h0M271.9 213.4h0M124.7 273.8h0M190.1 228.2h0M111.5 273.7h0M111.5 304.6h0M249.6 223.7h0M285 199.8h0M170.5 238.6h0M204.7 260.4h0M121.8 274.4h0M251.3 195.8h0M205.8 223.2h0M203.3 255.9h0M131.7 266.3h0M215.7 249.1h0M403.4 127.3h0M291.9 171.7h0M415 131.7h0M384.5 127.7h0M188.2 259.1h0M337.4 177.2h0M370.9 128.6h0M125.5 270.1h0M340.5 143.2h0M109 268.8h0M248.9 194.6h0M266 209.3h0M367.1 143.8h0M157.7 273.7h0M213 244.4h0M146.6 257.6h0M454 93.2h0M104.2 280.4h0M89.2 301h0M332.6 172.1h0M310.4 185.1h0M378.2 126.6h0M179.3 239.3h0M276.6 204.7h0M155.8 253.1h0M349.4 139.5h0M417.3 102.7h0M295.6 187.4h0M81.7 321.5h0M215.2 242.6h0M213.5 254h0M373.4 147.5h0M166.7 246.4h0M138.9 289.3h0M122.5 271.5h0M346.7 140.4h0M115 303.4h0M92.1 319.5h0M128.2 297.4h0M209.4 249.9h0M163.1 248.9h0M242.9 223.3h0M410.5 133.1h0M147.2 257h0M411.8 120.2h0M315.7 182.6h0M183.4 263.3h0M326.6 169.2h0M121.8 312.3h0M132.6 267.8h0M151.5 260h0M126.1 270h0M160.3 244.5h0M285.9 195.4h0M119.1 298.2h0M197.8 223h0M329.5 169.7h0M381.9 139.5h0M400.8 109.8h0M154.7 277.6h0M81.9 324h0M193.9 259h0M244.1 197h0M400.4 100.7h0M159.3 283.2h0M160.4 252.8h0M127.8 274.1h0M140.5 262.9h0M166.3 268.9h0M264.8 212.6h0M380.7 153.8h0M280 212.9h0M113.3 270.6h0M275.3 201.2h0M198.2 227.9h0M191.8 232.6h0M310.8 161.7h0M375.5 125.7h0M208.5 218.7h0M111.7 270.2h0M296 190.9h0M387.5 133.1h0M92.5 317.3h0M267.6 210.5h0M192.9 256h0M239 227.4h0M115 304h0M206.3 249.5h0M313.1 156.7h0M210.3 247.1h0M167.5 265.4h0M363.4 130.9h0M155.4 277.7h0M318.1 177h0M248.5 223.7h0M245.7 234.4h0M253.5 216.1h0M272.5 204.1h0M372.4 148.1h0M274.9 167.7h0M350.2 170.1h0M148 279.3h0M245.6 221.9h0M370.7 130.9h0M269.3 213.2h0M440.2 100.6h0M282.2 175.4h0M132.7 271h0M70.9 331.2h0M276.3 202.7h0M217.5 241.7h0M366.2 139.4h0M180.7 265.8h0M495.4 76.8h0M337.4 165.3h0M69.3 336.7h0M401.4 108.9h0M243.8 231.3h0M338 163.9h0M391.6 113.9h0M158.4 276.9h0M345.4 138.7h0M269.1 214.9h0M152.6 242.8h0M359.9 156.7h0M341.8 163.6h0M441.4 104h0M371.6 157.6h0M407.2 107h0M359.7 137h0M368.7 134.1h0M127.1 296.7h0M306.8 182.6h0M322.7 174.3h0M191.8 234.5h0M329.7 171.9h0M454.9 91.1h0M441.9 92.1h0M91.9 318h0M258.5 224.4h0M69.4 334.6h0M359 123.4h0M383.9 121.8h0M332.8 143.8h0M108.4 311.8h0M274.6 179.1h0M408.7 122.1h0M414 119h0M151.8 258.6h0M251.2 195.4h0M82.3 325.7h0M283.2 202.1h0M337.4 138.4h0M238.4 226.5h0M172.8 242.2h0M420.3 115.5h0M115.2 306.1h0M145.8 254.6h0M178.9 243.3h0M159.9 253.5h0M123 270.3h0M330.1 169.6h0M79.6 317.9h0M199.1 257.5h0M133.5 294.2h0M336.3 166.4h0M89.6 316.4h0M236.1 227.5h0M283.6 170.5h0M441.1 99.2h0M140 263.3h0M339.7 175.4h0M407.2 112h0M372.8 111.3h0M423.8 125.1h0M336.9 140.2h0M422.2 128.5h0M265.9 189.6h0M395.9 115.7h0M190.4 264.1h0M95.6 323.4h0M254.4 214.2h0M336.4 179.6h0M425 115.8h0M474.4 82.4h0M227.6 210.1h0M417.6 116.7h0M390.2 136.2h0M475.5 84.7h0M369.4 152.7h0M70.8 331.8h0M240.4 227.6h0M125.9 308.7h0M200 258.4h0M377.2 145.9h0M371.1 145.3h0M202.7 225.1h0M420.8 105.7h0M100.9 279.7h0M342 162.4h0M415.7 117.8h0M217.1 212.3h0M303.3 165.1h0M447.9 88.7h0M159 278.6h0M106.6 274.6h0M258.4 212.9h0M419.9 114h0M188.6 260.1h0M434.2 98.1h0M222.5 234.7h0M317.9 177.4h0M389.4 129.5h0M230 205.3h0M95.9 314.5h0M66.1 341.7h0M123.4 301.5h0M420.8 121.1h0M111.8 274.7h0M469 85.8h0M195 257.9h0M479.5 75.9h0M355.1 165.5h0M203.6 263.8h0M342.1 163.8h0M487.4 72.4h0M316.4 157.3h0M338.4 167.7h0M218.6 211.1h0M400 123.3h0M78.4 319.1h0M264.5 211.4h0M316.3 177.8h0M145.8 291.8h0M149.2 257.6h0M347 140.4h0M262.8 187h0M314.2 178.4h0M282.8 203.8h0M349.6 159h0M444.1 96.1h0M193.7 261.3h0M227.8 233.8h0M347.9 129.3h0M233.9 229.6h0M132.3 295h0M231.5 236.9h0M187.6 257.6h0M202.9 262.2h0M419.6 95h0M358.8 135.4h0M448.8 100h0M315.5 174.3h0M213.8 212.9h0M87.3 318.6h0M239.3 204h0M349.8 143.2h0M398.6 113.2h0M372.8 118.1h0M218.9 211.8h0M308.7 152.1h0M341.6 145.6h0M414.4 123.7h0M345.2 165.6h0M356.7 170.2h0M197.4 266.2h0M219.1 243.1h0M346.7 163.8h0M374.6 150.8h0M211.6 251.4h0M205.9 249.2h0M266.9 209.5h0M168.1 244.6h0M214.8 243.7h0M219.2 247.6h0M261.4 220.4h0M224.2 235.4h0M415.2 97.8h0M111 305.7h0M145.9 288.7h0M139.8 248.4h0M262.2 191.4h0M133.7 291.6h0M400 131.2h0M332.7 143.8h0M114 268.7h0M327.7 152.1h0M121 309.6h0M378.8 149.3h0M278 174.8h0M138 262.1h0M292.4 192.8h0M280.5 199.3h0M276.5 204.1h0M276.6 205.8h0M114.3 273.6h0M98.4 310.5h0M212.7 217.1h0M233.4 241.6h0M380.3 126.2h0M363.1 153.1h0M473.2 84.1h0M303 162.6h0M224.3 238.3h0M289.5 196.4h0M276.7 181.4h0M97.5 286.4h0M296.4 196.1h0M239.2 202.1h0M208.9 246.2h0M261.6 188.1h0M114.7 271.3h0M170.2 263.9h0M266.2 215.8h0M374.2 143.6h0M151.5 242.3h0M69 333.6h0M361.1 152.4h0M249.7 227.2h0M477 83h0M117.8 303.9h0M100.2 281.2h0M357.2 156.7h0M78.1 323.8h0M221.4 214h0M421.7 113.8h0M381 133.4h0M131.2 268.6h0M125.2 297.5h0M116.1 305.2h0M131 266.7h0M353.6 159.3h0M189.9 258.5h0M168.4 272.5h0M230.9 233.9h0M95.8 273.4h0M163.6 250h0M169.2 240h0M322.6 172.7h0M393.2 122.5h0M134.2 268.6h0M344.6 162.5h0M195.4 229.7h0M135.3 288.6h0M344.3 140.6h0M152.5 281.9h0M184.9 259.7h0M205.3 219.3h0M236.5 240.6h0M71.3 330.4h0M236.2 203.8h0M422.7 103h0M330.8 150.5h0M202.9 254.6h0M248.5 222.4h0M106.4 309.1h0M152.8 255.5h0M367.5 129.3h0M225 238.1h0M373.4 128.6h0M272.3 179.8h0M191.8 229.3h0M128.5 266.8h0M95.5 317.2h0M367.6 126.2h0M113 270h0M298.4 188.7h0M298.4 168.5h0M217.4 243.2h0M147.8 258.1h0M258 190.2h0M419.5 106.4h0M267.2 209.5h0M242.7 232.7h0M129.1 257.7h0M287.6 173.1h0M260.5 212.3h0M92.4 294.9h0M443.7 91.1h0M344.8 174.2h0M118.7 271.6h0M181.7 237.4h0M81 317.8h0M171.4 265.1h0M165 247.3h0M393 116.7h0M371.5 123.9h0M402.3 119.7h0M391.2 116.9h0M330.7 148.6h0M156.2 276.9h0M147.5 285.2h0M190.9 260.6h0M335 148.7h0M99.5 287.8h0M360.7 136.1h0M273.1 205.1h0M265.2 219.7h0M319.8 174.7h0M332.6 170.4h0M262.4 208.2h0M256.8 191.2h0M296 166.9h0M463 89.3h0M292.6 165.3h0M380 122h0M173.4 261.9h0M118.3 306.6h0M101.5 310.7h0M213.9 246.6h0M302.5 190.7h0M303.8 159.3h0M415.7 96.2h0M92.7 323.7h0M90.7 317.8h0M82.9 311.8h0M199.3 226.4h0M338.2 165.1h0M275.7 200.3h0M245.6 224h0M293.4 167.2h0M305.5 182.7h0M255.5 215.6h0M198.2 253.9h0M230.7 205h0M294.3 167.7h0M436.1 99.5h0M382.2 121.1h0M253.1 218.7h0M403.7 128.1h0M130.1 292.1h0M134.5 292.2h0M71 327.2h0M76.2 325.5h0M94.7 315.5h0M290.2 169.8h0M278.8 178.4h0M136.6 298.2h0M292.4 164.8h0M121.5 301.3h0M424.9 121.6h0M301.5 189.5h0M338.1 164.8h0M273.9 181.3h0M363.8 132.7h0M254.6 195.7h0M162.9 249.9h0M351.3 135.6h0M98.1 314.2h0M298.5 188.2h0M372.7 125.3h0M159.6 251.9h0M217.8 212.7h0M396.1 115.3h0M214.8 249.2h0M137.9 263.3h0M241.5 228h0M111 303.7h0M220.2 244h0M189.3 232.1h0M339.5 170.2h0M343.5 165.9h0M435.9 107h0M206.3 251h0M196.8 227.7h0M209.6 219.1h0M183.7 264.5h0M257.2 216h0M428.6 104.7h0M416.8 114.6h0M77.1 327.2h0M404.9 118.9h0M384 139.1h0M264.7 211.5h0M220.5 248.3h0M236.7 200.9h0M234.2 230.8h0M158 255.3h0M355.3 160.5h0M207.7 248.5h0M315.7 157h0M375.5 110.2h0M364.3 152h0M266.7 209.3h0M315.3 157.2h0M200.9 253.9h0M288 169.3h0M272.5 205.8h0M156.7 277.4h0M432 103h0M114.4 273.4h0M138.9 290.8h0M266.4 209.4h0M390 135.8h0M471.2 87.8h0M310.5 162.3h0M102.4 312.6h0M431.6 107.4h0M290 195.3h0M315.3 177.1h0M253.8 222h0M175.8 241.5h0M236.2 203.6h0M257.3 224.5h0M394.3 129.1h0M273.6 206.9h0M135.6 287.1h0M231.2 203.9h0M319.7 155.3h0M263.2 185.2h0M325.2 175.9h0M452.1 93.6h0M135.9 291.9h0M319.5 157.3h0M198.5 227.1h0M192.9 216.9h0M270.3 205.3h0M178.4 240.3h0M352.5 141.2h0M79.9 322.9h0M109.2 307.5h0M76.2 324.7h0M114.1 269.1h0M253.5 196.5h0M183.5 234.2h0M390.4 112.3h0M287.1 171.9h0M353.1 136.1h0M103.5 307.8h0M240.3 199.2h0M297.6 187.7h0M245.5 224.3h0M252.5 222.2h0M72.8 329.7h0M117.3 303.2h0M288.8 203.1h0M291.3 197.1h0M98.7 283.2h0M112.9 270.7h0M308.4 181.3h0M257.7 192.3h0M320.1 151.8h0M114.5 302.8h0M486.6 78h0M344 144.2h0M238.9 225.3h0M408.7 125.2h0M325.4 172.4h0M312.6 188.5h0M372.8 125h0M344.5 141.7h0M457.9 92.9h0M316.1 181.2h0M276.1 180.5h0M396.5 136.2h0M306.9 183.7h0M298.4 166.6h0M421.8 108.8h0M443 85.8h0M162 268.5h0M145.1 261.2h0M268.1 219.8h0M126.7 294.1h0M312 159.3h0M133.3 304.1h0M283.2 174.8h0M74.6 326.2h0M263.2 210.7h0M391.6 142.9h0M410.9 118.6h0M271.5 213.5h0M366.7 155.2h0M283.9 197.5h0M74.7 329.6h0M398.7 111.7h0M319.5 155h0M78.6 327.8h0M211.3 248.2h0M336.5 145.5h0M88.2 317.3h0M290.1 192.3h0M267.1 174.3h0M111.8 312.4h0M328.6 152.1h0M210.4 251h0M144.9 289.5h0M337.7 164.7h0M189.2 232h0M95.6 289h0M263.8 187.2h0M361.3 154.4h0M213.7 242.6h0M333.9 147.1h0M365.3 150.7h0M330.2 180h0M357.5 133.6h0M319.1 185.5h0M143.4 259.6h0M206 219.6h0M344.7 162.7h0M120 268.5h0M249.7 218.7h0M402.4 104.8h0M228.1 238.3h0M374 163.5h0M335 144.9h0M234.6 234.4h0M244.1 222.5h0M179 240h0M86.7 318.9h0M293.1 166.2h0M228.6 206.4h0M305 185.8h0M123.3 299.7h0M381.8 114.6h0M144.9 284h0M270.4 209.6h0M160.8 250.6h0M451.6 96.6h0M182.9 259.8h0M310.1 162.4h0M145.9 260.2h0M239.4 203.2h0M344.1 142.4h0M366.2 129.4h0M342.7 144.1h0M66.9 340h0M181.7 283.8h0M314 181.1h0M203 261.5h0M266 211.4h0M328.2 171.7h0M323.1 182h0M148.7 245.2h0M314.6 179.1h0M291.5 193.9h0M360.9 133.5h0M299.9 188h0M148.6 284.4h0M453 90.5h0M346 143.2h0M345.5 163.3h0M368.4 127h0M219 213.5h0M324.4 172h0M344 164.6h0M126 269.2h0M286.1 193.2h0M189 214.5h0M312.7 164.1h0M166.1 250h0M440.8 102.5h0M282.8 194.4h0M286.5 194.1h0M88.7 302.4h0M160.8 247.1h0M107.7 309.4h0M284.7 196.9h0M223.6 210.3h0M322 174.9h0M234.4 232.3h0M146.2 261.9h0M423.9 99.7h0M139.7 262.3h0M359.1 132.7h0M79.4 323.2h0M393.8 127h0M118.3 303.1h0M144.2 262h0M397.3 115.7h0M107.1 276.3h0M439.4 96.3h0M92.6 318.3h0M343.3 164.2h0M210.6 255.3h0M80.4 317.4h0M168.4 247.2h0M223.1 245h0M170.9 243.8h0M409.5 109.3h0M331.3 164.3h0M387.8 119.7h0M341.9 179.6h0M412.3 118.3h0M172 268.3h0M311.1 177h0M364.9 130.5h0M161.9 252.9h0M178.7 266.4h0M182.3 238.2h0M336.1 148.1h0M75.1 326.7h0M280.9 173.5h0M175.5 264.7h0M134.5 267.2h0M385.9 127.7h0M302.7 169.8h0M398 118.1h0M90.5 300.1h0M289.4 196.3h0M249.9 228.6h0M357 128.5h0M363.1 131.6h0M86.8 302.9h0M323.7 148.4h0M294.9 167.9h0M315.6 143.8h0M323.3 155.5h0M104.5 276h0M281.2 174.4h0M271.6 203.7h0M477.1 84.5h0M252.8 194.3h0M271 204.4h0M193.2 258.7h0M398.8 107.9h0M230.2 234.8h0M242.9 201.8h0M362 157.1h0M405.8 127h0M173.9 245.5h0M269.6 207.4h0M341.9 136.5h0M415.9 118.2h0M354 138h0M135.6 263.5h0M168.4 269h0M117.9 272.6h0M133.1 308.5h0M171.3 245.2h0M319.1 153.3h0M318.7 174.4h0M217.4 244.2h0M84.7 311.4h0M279.7 176.2h0M79.1 316.8h0M288.5 197.5h0M412.8 118.6h0M147.3 285.3h0M265.7 208.2h0M95.9 321.3h0M100.1 309.5h0M93 319.2h0M308.1 181.6h0M176.8 241.8h0M320.2 175.7h0M137.3 259h0M459.3 92.2h0M461.7 90.5h0M132.3 292h0M196.3 255.6h0M238.9 237.6h0M286.7 173h0M156.5 254.6h0M416.6 108.8h0M120.3 298.6h0M284.8 203.9h0M200 255.9h0M136.3 262.7h0M209.1 247.9h0M245.6 221.9h0M210.2 246.1h0M304.5 164.8h0M240.5 223.3h0M228.6 248.6h0M169.3 246.7h0M455.4 92.5h0M243.4 224.7h0M162.8 268.8h0M102.2 281.6h0M107 277.1h0M120.9 270.2h0M383.7 151.1h0M225.1 239.2h0M74.5 325.9h0M164.3 249.6h0M231.9 232.9h0M413.9 116.7h0M148.8 283.8h0M143.9 263.1h0M213.4 246.4h0M176.8 242.3h0M304.5 163.2h0M411.4 111h0M236.8 226.4h0M158.8 271.8h0M250.1 195.6h0M118.4 266.5h0M390.2 143.8h0M199.1 224.9h0M380.1 155.3h0M327.6 147.7h0M363.3 130.7h0M211.4 214h0M97.8 313.4h0M187.3 261h0M318.6 175.5h0M347.1 145.8h0M202.6 254.2h0M272.7 207.8h0M302.4 186.2h0M90.4 318.2h0M166.3 274.8h0M103.7 275.2h0M247.2 194.8h0M126.6 270.4h0M325 171.7h0M98.2 284.1h0M446.2 93.5h0M122.9 297.7h0M249.4 219.6h0M128.5 268.1h0M264.1 206.8h0M248.1 194.6h0M346.5 138.1h0M198.3 251h0M350.1 136.5h0M252.4 218.3h0M395.1 114.7h0M307.7 182.7h0M372.2 125.1h0M162.5 270.1h0M115.4 272.2h0M131.1 299.1h0M222.2 211.2h0M216.2 216h0M232.3 227.4h0M331.8 185h0M179.6 235.8h0M304.5 189.2h0M150.5 247.8h0M200.7 224.2h0M340.1 144.9h0M306.6 164.9h0M215.5 246.3h0M165.3 266.5h0M243.3 199.6h0M238.7 229.3h0M185 263.8h0M335.4 168.1h0M166.3 243.7h0M297 187.6h0M202.7 225.3h0M416.6 120h0M76.7 329h0M304.8 182.6h0M274.5 201.5h0M173.6 267.8h0M289.9 192.2h0M146.5 287h0M330.8 149.6h0M225.3 236.3h0M393.2 115.8h0M405.7 111.3h0M326.6 151.6h0M384.2 133.2h0M141.4 260.5h0M378 150.2h0M240 202.4h0M461 89.8h0M399.2 120.2h0M305.9 167.8h0M75.6 327h0M239.6 239.8h0M327.9 152.7h0M185 263.8h0M246.7 221.1h0M284.2 197.9h0M109.1 307.1h0M203.2 254.6h0M315.3 183.3h0M335.1 148.1h0M140.3 262.3h0M102 279.3h0M163.3 268.7h0M218.1 213h0M412.6 101.4h0M98 310.9h0M219.4 262.5h0M407.7 103.6h0M400.9 112.1h0M396.9 133.8h0M238.3 231.1h0M134 266.8h0M136 269.5h0M365 154.1h0M67.5 340.8h0M309.1 158.5h0M197.2 257.7h0M217.6 243.1h0M79 324.1h0M449.6 91.2h0M491.4 72.3h0M263 178h0M215.5 212.1h0M249.7 223.2h0M293 169.9h0M325.5 169.6h0M96.5 317h0M106.2 270.7h0M205.2 261.6h0M260.1 193.3h0M328.2 151.5h0M331 169.3h0M364.1 127.7h0M311 163.6h0M272.5 171.1h0M165.1 247.7h0M478 77.7h0M297.6 198.5h0M294.7 194.7h0M233.3 229.8h0M141.6 292.2h0M157.3 252h0M240.6 190.2h0M81.8 316.1h0M193 255.9h0M226.3 235.6h0M195.2 226.5h0M118.5 317h0M167.6 248.4h0M345.9 158.8h0M147.4 284.2h0M129.5 266.1h0M320.6 176.5h0M111.4 307.6h0M239.1 199.7h0M153.2 254h0M433.4 98.6h0M397.6 140.4h0M414.8 117.8h0M419.1 97.7h0M156 276.2h0M336.1 170.9h0M386 131.4h0M304.1 186.1h0M103.3 311.1h0M258.5 214.3h0M419.7 113.7h0M318.7 156h0M112.2 263.9h0M389.7 117h0M185.3 235.1h0M200 264.6h0M135.4 262.7h0M165.2 268.2h0M200 254.4h0M221.5 239.6h0M231 235.4h0M333.2 179.7h0M341.3 167.8h0M354.5 138.2h0M340.5 141.7h0M96 289.5h0M306.5 165.2h0M144.9 284.2h0M274.6 211.2h0M244.6 224h0M90 297.4h0M190 231.3h0M374.7 142.5h0M302.7 167.3h0M190.9 234.2h0M246.3 200.5h0M234.1 206.3h0M87.1 319.6h0M362.6 151.1h0M176.4 265h0M361.3 130.7h0M363.3 160.1h0M192.3 268h0M374.6 115.4h0M199.7 224.8h0M225.7 239.4h0M172.1 242.8h0M317.5 158.9h0M213.3 244.3h0M144.4 259.9h0M214.2 212.9h0M422.1 127.9h0M151.3 257h0M178 267.8h0M102.9 280h0M290.8 194.1h0M310.4 160.4h0M214 247.9h0M259.7 186.8h0M301.5 194.5h0M117.5 302h0M371.4 143h0M163.4 268.7h0M373.7 120.8h0M370.7 144.9h0M176.3 270.7h0M80.4 325.4h0M335.2 175.3h0M436.4 99.1h0M321.7 183.5h0M247.6 224.1h0M204.5 222.2h0M223.7 237.4h0M358.2 134h0M220.8 251.7h0M255 217.9h0M84.5 321.6h0M143.4 296.2h0M179.3 264.8h0M96.1 287.1h0M245 227.3h0M352.2 139.6h0M397.3 127.6h0M348.9 137.3h0M78.2 321.5h0M312.7 159.8h0M221.3 212.7h0M339.5 163.4h0M415.7 97.7h0M364.6 136h0M363.9 132.5h0M300.3 193.3h0M135 262h0M289 195.5h0M207.7 248.9h0M354.6 155.8h0M422.3 111h0M73.8 328.2h0M92 319.1h0M183.6 230.4h0M336.9 148.3h0M177.6 264.6h0M155.2 254.2h0M211.1 216.4h0M298.2 199.8h0M253.5 215h0M113 305.7h0M324.1 167.4h0M143.1 284.6h0M241 233.2h0M264.3 180.6h0M146.5 285.7h0M277.5 179.4h0M267.3 215h0M257.2 213.1h0M98.5 284.7h0M311.6 182.4h0M299.3 188.8h0M383.1 121.9h0M474.2 85.3h0M86 321.5h0M346 164.8h0M385.7 134.2h0M297.9 194.1h0M134.6 293.6h0M334.5 171.8h0M317.1 182.3h0M316.9 179.3h0M179.8 233.9h0M172.2 241.9h0M162.1 271.2h0M259.1 215.6h0M326.3 173.2h0M371.5 145.6h0M271.1 181.9h0M332.4 149h0M105.7 279.2h0M210.8 244.6h0M177.2 234.5h0M247.3 197.4h0M246.4 224.2h0M105.8 308.6h0M361.1 151.4h0M131.7 294.9h0M68 337.7h0M188.8 233.6h0M191.4 259.2h0M220.8 210.3h0M387 137.6h0M290 195.1h0M133.7 292.9h0M383.4 128.8h0M237.7 204.1h0M76.9 322.4h0M360.5 133.6h0M174.2 238.8h0M236.6 234h0M274.9 204.5h0M242.2 227.9h0M195.7 257.3h0M130.5 295.7h0M195 256.6h0M308.8 166.9h0M316.9 178.7h0M262.3 216.5h0M225.1 238.6h0M294.1 168.1h0M140.1 263.7h0M415.8 96.4h0M402.2 128.7h0M205.4 264.3h0M292 195h0M240.1 227.5h0M112.9 274.2h0M404.8 116.9h0M83.6 312.7h0M296.7 188h0M79.9 320.4h0M264.8 209.1h0M164.8 271.9h0M295.8 193.3h0M147.2 281.7h0M234.1 204.9h0M305.6 184.4h0M113.2 306.9h0M424.9 86.8h0M323.2 173.2h0M324.6 171.8h0M276.6 206.5h0M107.2 314h0M181.9 235.8h0M94.9 314.6h0M433.1 98.5h0M207.1 220.4h0M283.3 204.5h0M263.1 188.7h0M68.6 337.7h0M129.4 295.2h0M121.4 300.9h0M70.1 331.9h0M320.4 156h0M292 159.3h0M317.1 183.9h0M321.1 153.2h0M290.6 169.3h0M354 167.7h0M287.9 173.8h0M240.1 233h0M343.2 163.7h0M473 79.3h0M116.1 311.7h0M67 341.7h0M202.2 222.3h0M99.4 285.5h0M463.3 89.2h0M106.1 278.2h0M320 188.5h0M389.8 117.1h0M336 168.4h0M223.7 208.6h0M92.9 294.5h0M369.5 149.7h0M450.5 88.7h0M352.8 166.8h0M384.6 131.4h0M256.4 213.1h0M110.4 306.3h0M312.7 161.2h0M204.6 256.5h0M352.7 158.7h0M152.1 278.9h0M318.7 159h0M114.9 311.4h0M387.7 125.1h0M203.5 220.5h0M85.7 306.1h0M332.9 176.7h0M402.6 109.4h0M117.8 309.3h0M469.6 88.1h0M390.4 114.8h0M143.8 258.3h0M176.4 269.8h0M248.1 222.1h0M349.1 143.6h0M274.7 180.9h0M186.2 233.6h0M181.7 259.4h0M194.5 260.8h0M354.7 139.6h0M128.5 270h0M256.8 218.1h0M300.3 188.9h0M229.8 207.9h0M478.6 86.8h0M390.6 136.4h0M410.7 112.5h0M296.3 198.7h0M87.7 318.7h0M178.4 268.8h0M222.9 209.7h0M354.3 159.6h0M244 200.1h0M93.6 312.6h0M242.8 203h0M222.6 242.4h0M398.3 115.3h0M190.3 229.7h0M340.3 144.1h0M115.9 271.4h0M99.4 283.9h0M209.4 246.1h0M337.7 167h0M142.5 260.8h0M93.1 314.1h0M260.3 210.8h0M121.3 272.2h0M239.7 236.9h0M274.9 204.4h0M381.6 137.3h0M255.1 193.9h0M219.4 246.6h0M93.6 317.1h0M202.6 253.2h0M195.4 259.7h0M84.7 305.9h0M118.7 271.7h0M366 127.4h0M71.2 328.8h0M227.7 233.8h0M319.6 176.5h0M314 161.3h0M71.7 331.1h0M263.6 209.2h0M300.7 165.1h0M190.8 268.9h0M69.7 335.3h0M185.3 235h0M201.2 263h0M314.1 176.8h0M317.4 177.4h0M385.3 145.9h0M398.5 141.6h0M114 267.8h0M295.7 165.5h0M119.4 304.2h0M369.7 150.9h0M131.4 298.1h0M160.2 252.6h0M179.7 262h0M187.8 230.6h0M83.1 318.3h0M167.7 266.5h0M319.4 154.9h0M238.6 199.6h0M161.6 271.8h0M285 164.3h0M163.9 271.1h0M327.4 171.4h0M135.1 264.3h0M492.9 67.9h0M161.6 270.6h0M71 332.8h0M244.2 223h0M170.6 276h0M284.9 174.9h0M162.3 241.9h0M280 178.7h0M178.6 228.8h0M335.9 148.5h0M253.3 218h0M101.7 309.8h0M295.7 194.4h0M154.6 253.5h0M311.3 158.7h0M274.5 206.1h0M167 274.9h0M227.5 208.1h0M130 269.1h0M258.2 191.6h0M236.2 226.7h0M262.6 180h0M94.8 290.3h0M309.1 189.1h0M422.7 115.6h0M74.7 329.3h0M188 259.7h0M306.8 162.8h0M257.4 186.5h0M296.7 191.2h0M243.9 226h0M466.1 82.8h0M246.6 189.5h0M316.4 176.2h0M223.4 235.5h0M129.8 291.4h0M113.7 273.9h0M287 195.3h0M334.3 148.6h0M227.1 233.1h0M205.6 216.3h0M311.9 155.2h0M325.2 167.2h0M392.5 115.1h0M393.1 132.8h0M99.1 280.1h0M350.7 136.6h0M340.8 165.9h0M245.3 198.1h0M140.9 286.1h0M98.4 281.6h0M434.2 100.2h0M283.4 203h0M194.6 255h0M250.1 220.6h0M229.4 206.3h0M329 175.5h0M465.6 86.4h0M453.7 88.7h0M185.6 261.1h0M255.7 216.6h0M404.9 116h0M234.1 240.5h0M127.8 297h0M172.6 267h0M215.8 241.5h0M257.6 188.6h0M234.4 239.8h0M144.2 282.4h0M396.4 134.1h0M382.8 138.2h0M347.4 163.9h0M281.9 196.4h0M373.2 142.8h0M358.2 155.1h0M320.5 156h0M300.9 184.7h0M375 144.6h0M420.9 116.2h0M111 305.9h0M195.7 258.7h0M210.4 248.3h0M292 168.5h0M125.3 272.8h0M414.7 110h0M151.6 257.7h0M73.4 328.5h0M349.3 159.8h0M420.1 106h0M282.3 198.8h0M276.3 179.5h0M137.9 289.4h0M99.3 283.8h0M430 108.9h0M322.8 152h0M109.4 307.6h0M146.2 259h0M299.5 165.3h0M403 119.5h0M110 310h0M403.9 126.8h0M157.9 277.7h0M150 251.8h0M294.5 166h0M427.7 97.6h0M435.7 107.1h0M227.1 236.7h0M281.9 176.1h0M293 193.3h0M295.7 190.3h0M112.2 306.9h0M154.2 283.5h0M241.9 196.4h0M213.8 241.8h0M324.4 150.6h0M184.8 227.5h0M139.2 263.3h0M175 240.9h0M259.1 210.6h0M314.5 156.7h0M139.9 264.9h0M407.3 122.6h0M280.9 210.9h0M67.6 337h0M154 253.2h0M84.3 309.1h0M245 226.9h0M199.9 220h0M85.3 319.1h0M317.1 175.7h0M350.3 145h0M296.4 192.5h0M289.7 195.3h0M95.8 311.4h0M221.5 239.7h0M209.1 248h0M362.1 153.4h0M145.7 283.6h0M197.4 226.5h0M180.3 237.8h0M326 151.7h0M263.5 184.9h0M209.9 253.2h0M218.1 211.4h0M336.4 148.9h0M295.5 198.6h0M196.2 225.7h0M132.7 267.8h0M353.8 131.3h0M346.4 163.8h0M103.2 311.8h0M355.8 136.8h0M229.1 234.5h0M175.1 266.8h0M205 225.5h0M481.3 83.6h0M177 261.8h0M140.4 262.3h0M311.8 185.8h0M269.2 203.6h0M312 161.6h0M376.3 122.6h0M110.3 303.1h0M231.1 232.3h0M76.8 329.8h0M183 270.1h0M293.2 201.1h0M87 319.6h0M357.5 137.6h0M255.8 215.7h0M169.9 265.4h0M353 156.9h0M271.2 213.4h0M181.8 226.3h0M356.3 158.9h0M390 126.1h0M147.5 257.3h0M103.4 314.7h0M180.5 261.1h0M216.4 242.9h0M265.2 212.8h0M249.7 227.8h0M168.8 268.9h0M427.2 105h0M331.1 168.8h0M164.9 246.7h0M201.9 257.6h0M167.6 268.7h0M394.2 124.1h0M442.5 89.7h0M356.2 138.2h0M85.7 323.2h0M326.4 166.9h0M360.9 132.7h0M169.8 246h0M426.2 108.6h0M92.9 317h0M86.3 304.7h0M313.4 161.3h0M374.3 161h0M330.7 150.8h0M301.1 158.8h0M358 137.6h0M347.3 138.1h0M466.1 91.2h0M305.6 161.6h0M311.8 150.5h0M329.4 135.7h0M243.2 201.4h0M216.7 215.6h0M72.6 329.9h0M76.4 329.2h0M473.2 83.7h0M330.6 178h0M397.7 110.5h0M284.6 172.5h0M383.8 136.8h0M342.1 142.5h0M284.3 166.4h0M297.8 188.1h0M334.7 150.3h0M110 263.4h0M213.6 216.4h0M113.7 304.8h0M312.5 159.8h0M399.2 116.7h0M337.1 165.2h0M463 89.4h0M90.3 320.3h0M141.5 260.6h0M383 143.1h0M183.9 267.2h0M316.3 177.8h0M307.9 160.9h0M272.7 177.8h0M375.4 142.5h0M119.5 271.5h0M219.2 209.1h0M100.6 310.9h0M105.3 310.3h0M202.1 257.8h0M268.9 207.7h0M251.5 199.4h0M345.4 163.1h0M250.4 218.2h0M368.1 145.3h0M399.7 129.8h0M92 317.2h0M296.6 170.3h0M283.2 193.2h0M246 221.7h0M351.3 159.8h0M300.9 197.4h0M391.9 129.8h0M367.8 147.4h0M298.7 161.6h0M320.1 155h0M183.1 235.9h0M387.4 137.2h0M404.1 118.1h0M305.8 160.6h0M255.6 215.7h0M290.7 193.1h0M132.9 291h0M224.6 246.8h0M499.9 75.9h0M87.1 303.8h0M76.3 322.6h0M354.1 159.5h0M123.3 275.8h0M385.3 118.4h0M91.1 327h0M100.7 275.8h0M107.3 310.5h0M88.7 313.9h0M154 282.2h0M467.8 84.9h0M367 148h0M229.9 242.2h0M351.5 158.7h0M291.4 191.2h0M407.8 116.1h0M239.1 200.3h0M462.1 93.3h0M374.3 113.2h0M424.1 91.8h0M110.7 269.6h0M190.6 260.4h0M136.8 267.2h0M201.3 222.8h0M128.8 306.7h0M350.3 140.4h0M180.6 261.9h0M374.1 118h0M237.5 206.9h0M279.2 202.4h0M179.6 237.1h0M117.4 301.6h0M264.9 188.8h0M325.4 151h0M348.1 136.3h0M328.2 171.4h0M238.1 201.6h0M292.2 204.5h0M105.4 272.3h0M260.1 216.1h0M301.3 161.6h0M291.2 201.9h0M193.8 227.7h0M362 126.3h0M276.4 209.8h0M124.6 300.4h0M203.3 225.7h0M330.7 169.3h0M152.8 281.2h0M145.8 262.4h0M405.4 117.9h0M265.2 211.8h0M261 190.3h0M166 268.7h0M301.9 186.5h0M184.4 262.9h0M158.4 253h0M423.6 111.3h0M316.4 157.2h0M231.2 232.4h0M240.7 226.4h0M404.5 122.8h0M394.9 122.3h0M266 212.1h0M341.5 166.6h0M251.4 196.9h0M300.3 166h0M276.8 178.1h0M395.9 114.6h0M85.9 307.6h0M294.3 199.9h0M311.1 189.4h0M174.3 239.6h0M388.4 132.6h0M393.7 133.8h0M255.8 213.5h0M198 252.2h0M108.9 271.4h0M276.9 211.5h0M259.3 212.4h0M215.4 212.8h0M125.6 270.1h0M166 270.2h0M220 211.3h0M312.6 191.8h0M291 175.4h0M206.7 249.8h0M215.8 244.2h0M183.2 263h0M361.2 154.6h0M92.4 316h0M309.2 165.7h0M247.3 228.4h0M288.6 196.5h0M355.2 154.9h0M333.3 169.9h0M244.7 198.3h0M196.4 257.1h0M421.7 102.2h0M156.5 277.9h0M196 261.2h0M90.8 299.7h0M455.9 93.5h0M328.2 166.8h0M75.9 324.9h0M305.3 159.7h0M220.9 241h0M263.1 212.4h0M242.3 199.5h0M126.3 300.8h0M142.2 288.4h0M316.1 179.2h0M249.2 198.1h0M364.3 130.9h0M203.9 253.1h0M261 218.8h0M238 236h0M284.2 197.4h0M253.9 221.8h0M212.6 214.2h0M294 170.3h0M235.9 231h0M86.2 306.4h0M290.8 165.8h0M83.3 312.9h0M392.7 128.7h0M212.8 247.2h0M285.1 167.7h0M406.3 109.3h0M269 210.2h0M77.5 325.7h0M383.9 121.6h0M184.2 264.3h0M329 185.3h0M109.4 302.7h0M383.1 149.6h0M116.1 323.4h0M289.9 171.1h0M155.3 253.6h0M394.6 123.7h0M216.2 210.2h0M424.7 127.8h0M346 160.8h0M203.3 250.9h0M279.5 176.2h0M162.4 274.6h0M103.2 278.8h0M315.5 153.1h0M293.4 167.4h0M406.9 114.4h0M101.1 281.4h0M430.1 97.1h0M96.4 274.5h0M370 125.8h0M335.2 147.1h0M180.1 264.2h0M258.6 214.1h0M377.1 136.2h0M350.9 161.6h0M294.9 201.5h0M400 138.3h0M257.4 224.5h0M174.2 238.7h0M224.6 239.3h0M334.6 165.4h0M277.6 179h0M309.2 160.3h0M262.8 212.4h0M411.5 129.6h0M277.8 178.9h0M358.9 155.3h0M443.2 102.8h0M149.9 253.5h0M215.9 247.5h0M309.2 162.4h0M176.3 266.6h0M332.3 150.5h0M339.4 165.5h0M459.3 91.5h0M313.2 173.1h0M297.1 156.8h0M300.9 187.9h0M445.3 99.3h0M318.6 151.6h0M171.7 245.7h0M408.3 118.1h0M260.3 212.5h0M184.5 258.8h0M429.1 106h0M175.8 226.3h0M408.6 119.3h0M127.5 263.1h0M172.7 239.1h0M425 117.4h0M444.3 102.2h0M118.7 311.1h0M131.2 306.2h0M409.8 120.7h0M373.3 146.7h0M146.2 285h0M268.6 208.6h0M77.7 325.4h0M361.1 132.1h0M206.2 223h0M80.5 320.1h0M411.8 116.2h0M331.1 168h0M272.4 208.7h0M459.6 87h0M248.7 195.8h0M151.9 283.2h0M178.1 264.1h0M210.5 249.3h0M141.9 288.3h0M336.1 174.1h0M204.7 254.7h0M425.5 105.1h0M321.5 177.4h0M67.5 338h0M128.9 296.1h0M88.9 316.4h0M284.1 194.3h0M281 199.4h0M72.8 330.7h0M287.8 199.5h0M125.5 270.9h0M214.9 247.5h0M299.7 189.3h0M108.4 256.3h0M104.8 309.1h0M309.5 180.7h0M237.1 206.4h0M144.9 289.6h0M332.5 172h0M452.8 93.6h0M359.9 154.3h0M422.1 111.1h0M352.6 161.4h0M88.1 320.1h0M217.6 241.9h0M250.3 216.9h0M144.5 258.6h0M420.7 103.9h0M188.7 231h0M346.3 168.8h0M340.7 163.1h0M124.9 300.7h0M321.2 155.8h0M246 223.3h0M232.6 202.5h0M152.7 277.8h0M361.8 121.9h0M227.7 204.4h0M188.3 218.7h0M170.3 265.1h0M294.4 197h0M376.5 144.6h0M210.1 246.6h0M157.5 253.3h0M261.9 188.7h0M375.4 121.2h0M375.9 144.7h0M280.2 201.5h0M408.9 125h0M267.4 206.5h0M146.3 253.1h0M276.2 200.6h0M66.3 337.7h0M290.5 197.4h0M328.8 148.4h0M396.1 146.1h0M229.9 234.2h0M200.9 225h0M159.2 274h0M252 192.4h0M243.4 202.4h0M378.8 120.8h0M75.5 325.4h0M294.5 186.2h0M129.4 295.7h0M248.2 219.3h0M321.3 157.2h0M68.2 336.6h0M412.1 121.4h0M231.1 205.2h0M121.4 266.6h0M144.9 282.9h0M384.6 135.5h0M368.5 139.4h0M203.3 221.3h0M173 242.9h0M268 207.6h0M140.6 304.9h0M313.8 193.8h0M399.4 125.3h0M86.9 321.9h0M395.6 110.6h0M189.8 228.4h0M270.4 214.8h0M293.3 169h0M270.3 208.3h0M306 165h0M283.7 199.2h0M315.1 177.2h0M207 218.6h0M217.3 259.2h0M208.7 250.5h0M123 270.5h0M144.2 261.9h0M224.6 236.4h0M157.2 244.6h0M282.2 174.2h0M448.4 89.2h0M255.6 213.1h0M339.4 143.6h0M327 154.2h0M239.2 231.2h0M67 340.4h0M457.3 86.3h0M213.8 215.6h0M317.5 157.2h0M197.1 253.5h0M145.1 291.6h0M123.7 302h0M303.7 184.9h0M434.5 103.4h0M196.7 225h0M277.5 177.8h0M113.3 307.8h0M133.7 294.2h0M226.8 209.6h0M230.4 231h0M136.4 289.7h0M374 115.9h0M215.7 214.4h0M178.6 241.9h0M140.4 264.7h0M182.6 235h0M456.1 95.8h0M431.1 96.1h0M194.5 230.1h0M392.9 131.2h0M372.2 123.9h0M312.6 161.8h0M395.8 126.4h0M67.8 340.5h0M221.4 251.4h0M173.2 263.9h0M207 216.7h0M155.4 277.9h0M447.8 94.8h0M255.5 222.8h0M257.1 193.9h0M90 315.2h0M263.6 218.1h0M100.4 279.6h0M287.3 193.5h0M365.3 154.1h0M390.7 121h0M255.5 191.1h0M168 271.6h0M142.2 289.7h0M83.3 324h0M199.6 223.4h0M300.3 171.3h0M118.8 273.4h0M86.3 319.2h0M360.4 158.1h0M207.9 248.8h0M417 98.2h0M212.1 245.8h0M351.5 137.6h0M339.6 145.2h0M138.8 289.2h0M378.3 140.3h0M101.1 314.6h0M309.9 192.7h0M236.7 228.3h0M210.3 215.9h0M157.6 274.6h0M155.4 276.4h0M283.8 207.7h0M322.4 173.9h0M98.3 312.5h0M318.7 184.1h0M77.6 324.7h0M247.8 222.2h0M270.5 204.3h0M229.4 204.6h0M306.9 182.1h0M148.4 256.3h0M139.3 260.8h0M283.7 200.9h0M222 212.9h0M196.1 260h0M260.1 217.4h0M354.9 142.8h0M69.7 332h0M177.6 235.8h0M255.4 195.4h0M464.7 93.2h0M222 240.7h0M424.4 112.9h0M302.8 163.5h0M350.8 141h0M360.4 154.1h0M385 135.7h0M119.4 274.8h0M160.8 272.2h0M398.5 134h0M181.3 238.1h0M337.4 147.3h0M191.4 258.5h0M96.1 313.4h0M277.9 201.1h0M239.6 202.3h0M115 271.7h0M141.6 260.7h0M205.5 211.9h0M234.1 204.8h0M418.2 110h0M82.3 315.1h0M82.7 319.4h0M440 98.6h0M265.8 207.3h0M311.4 199.4h0M235.5 204.4h0M204.1 254.4h0M170 244.7h0M398.8 127.5h0M68.7 336.2h0M383.5 140.6h0M196.1 259.9h0M154.2 277.9h0M445.9 89.7h0M189.4 228.8h0M87.7 301.7h0M94.6 318h0M182.3 262.3h0M261.7 210.9h0M247.6 224.7h0M209.1 262.9h0M392.8 134.9h0M230.9 232.6h0M82.4 322.9h0M143.8 262h0M149 256.7h0M164.7 268.7h0M279.5 173h0M253.5 224.1h0M416 120.7h0M108 306.5h0M376.2 139.4h0M381.2 114.5h0M156 243.9h0M204.4 224.3h0M170.4 243.4h0M403.5 115.4h0M206.5 246.9h0M376.1 126.3h0M301.3 164.4h0M481.1 74.6h0M116.8 274.8h0M143.5 284.1h0M195.3 228.9h0M301 186.1h0M85.5 311.4h0M383.7 114.3h0M226.8 239.3h0M474.9 84.7h0M324.3 155.3h0M307.3 191.7h0M190.3 260.2h0M157.9 290.3h0M87.8 303.1h0M384.2 156.3h0M244.8 224.5h0M139.9 300.2h0M313.3 161.4h0M220.4 242.9h0M261.4 178.3h0M183.6 238h0M189.7 258.5h0M218.1 241.2h0M224 239.5h0M235 205h0M360.7 136.1h0M165.4 247h0M204.6 251.2h0M234.2 230.2h0M251.2 198.7h0M280.3 179.7h0M161.6 249.9h0M193.9 265.8h0M387.6 111.9h0M94.6 285.2h0M118 268.5h0M298.9 166.3h0M317.4 186.7h0M169.8 244.8h0M404.6 132.9h0M365.2 161.4h0M187.4 261.6h0M282.1 198.5h0M181.7 239.8h0M294.6 167h0M304.5 165.2h0M223.3 208.3h0M238.5 237.8h0M194.7 227.3h0M73.8 328.1h0M232.6 232.1h0M381.2 127.5h0M121.4 311.8h0M212.6 211.6h0M218.5 219.9h0M335.3 149.6h0M356 156.6h0M246.3 197h0M329.8 148h0M105.2 309.4h0M404.1 119.4h0M436.2 105.7h0M289.6 170.8h0M104.2 283.6h0M374.4 125.3h0M118.1 302.8h0M157.5 255.2h0M271 181.4h0M232.9 235.3h0M156.4 275.8h0M226 209.3h0M326.7 173.3h0M262.9 214.5h0M153.9 278h0M124.7 300h0M277.4 202.7h0M89.1 299.5h0M411.2 120.3h0M205.5 252.9h0M298.6 190.1h0M414.5 118.7h0M145.8 259.1h0M94.5 325.4h0M451.3 87.6h0M322 174.1h0M442.8 97.1h0M295.6 195.4h0M493.7 74h0M342.3 168.7h0M140.8 260.2h0M484.3 77h0M281.9 197h0M362.7 133.2h0M161.3 253h0M329.3 142.2h0M230.1 232.4h0M244.1 225.1h0M427.6 100.4h0M114.8 301.4h0M141.7 288.1h0M203.1 250.4h0M438.6 96.6h0M168.7 266h0M171.6 266.3h0M457.5 83.2h0M351.3 141.1h0M381.2 141.7h0M326.6 179.6h0M160.1 254.6h0M177.7 262.8h0M359.9 155.8h0M323.8 173.4h0M428.7 103.4h0M172.9 240.7h0M114.6 308.7h0M339.2 181.6h0M147.5 256.1h0M153.2 253.2h0M232.8 206.1h0M292.7 195.1h0M293.3 154.7h0M225.2 239.8h0M225.6 244.5h0M428 99.4h0M399.6 140.5h0M349.9 139.5h0M172.8 274.9h0M201.9 251.1h0M173.9 264.7h0M285.6 206.9h0M437 103h0M433.7 100.5h0M124.3 297.9h0M70.4 331.1h0M182.5 234.2h0M69.4 333h0M275.1 205.8h0M356.1 156.3h0M371 127.4h0M145 259.3h0M252.3 224.9h0M214.1 244.6h0M233.9 206.6h0M376.5 120.5h0M171.1 266.3h0M293.3 174.3h0M149.6 285.6h0M358.8 155.4h0M281.3 200.8h0M150.7 254.4h0M268.2 185.8h0M95.6 314.6h0M194.3 258.1h0M201.9 261.6h0M365 159.4h0M367.2 128.4h0M285.5 175.2h0M178 267.5h0M267.8 207.2h0M206.3 262.9h0M316.8 177.8h0M485.1 81.5h0M322 178.3h0M204.1 253.2h0M291.8 188.9h0M314.2 158.2h0M260.1 189.8h0M445.2 90.8h0M115.7 274h0M93.8 317.6h0M70.6 332.1h0M94.4 289.7h0M239.1 230.9h0M99.5 281.4h0M114.5 270.2h0M323.3 156.9h0M224.1 201.4h0M369.1 148.3h0M361 154.5h0M80.4 314.5h0M385.2 116.6h0M110.5 307.4h0M425.4 114.7h0M334 167.7h0M131 269.4h0M346 158.1h0M289.2 192.6h0M223.8 211.9h0M302.2 163.6h0M108.1 310h0M227.2 234.4h0M273.7 214.5h0M89.3 300.2h0M252.4 194.6h0M122.6 301.8h0M372.8 124.7h0M122.5 301.8h0M410.8 121.4h0M155.3 289.7h0M149 259.8h0M204.4 253.5h0M270 184h0M267.4 180.4h0M362.1 154.4h0M137.7 291.7h0M331.5 170h0M309.5 166.8h0M370.3 127.1h0M119.8 272.9h0M295.4 171.8h0M371.4 148.6h0M66.6 338.7h0M137.7 263.2h0M259.4 224.2h0M131.3 267.1h0M262.9 213.6h0M137.5 290.4h0M386.7 122.9h0M310.6 180.4h0M379.8 139.7h0M220.8 211.4h0M461.1 91.8h0M259.6 189.2h0M332.1 178.9h0M161.5 245.4h0M285.8 174.9h0M169.5 266.8h0M287.5 200.5h0M269.3 181.7h0M249.1 195.2h0M315.7 151.4h0M85.3 319.1h0M241.6 199.2h0M218.2 241h0M387.6 124.9h0M116 302.8h0M327.9 156h0M275.6 205.2h0M86.6 302.6h0M295.1 168h0M67.8 336.2h0M269.9 216.5h0M338.5 164.1h0M101.4 281.3h0M193.6 230.2h0M269.7 184.7h0M185.3 266.4h0M483.4 72.9h0M430.9 106.9h0M330 168.5h0M374.1 117.6h0M249.8 197.9h0M187.5 229.5h0M78.8 320.1h0M332 167.3h0M287.8 194.5h0M446.1 99.5h0M292 170.5h0M250.7 199.8h0M265.4 216h0M343.7 162.9h0M317.9 148.7h0M312.7 162.9h0M75.2 326.8h0M394.1 136.2h0M136.7 263h0M174.2 271.4h0M319.6 171.7h0M207.3 222.6h0M422.4 94h0M376.8 142.6h0M146.4 255.5h0M155.2 276.4h0M202.2 258.9h0M371.5 149.5h0M396.8 130.5h0M146.2 289h0M111.5 306.7h0M257 192h0M392.1 110.7h0M355.8 160.8h0M413.9 109.9h0M333.5 148h0M329.1 167.8h0M334.2 171h0M152.6 256.3h0M264.3 186.4h0M155.8 250.2h0M219.5 246.9h0M158.4 255.5h0M482.7 80.1h0M141.5 262.9h0M128.4 269.1h0M106.8 275.4h0M278.7 180.5h0M294.3 165.7h0M107.4 275.5h0M385.3 121h0M181.5 237.8h0M284.9 171.3h0M241 205.1h0M458.1 85.2h0M133.8 290.8h0M279 176.2h0M74.6 329h0M101.7 311h0M316.3 179.8h0M305.4 186.5h0M87.7 316.7h0M248 219.8h0M84.1 320.9h0M261 212h0M348.1 175.5h0M387.4 151.1h0M234.5 204.1h0M315.3 180.2h0M388.5 136.5h0M174.8 229.9h0M239 224.7h0M207.9 263h0M266.7 213.3h0M394.2 121.9h0M367.5 149.9h0M91.3 316.2h0M431 103.6h0M267.2 209h0M235.8 200.6h0M324.1 152.5h0M355.6 136.6h0M308.8 186.1h0M200.3 254.1h0M318.5 156h0M382.7 141.4h0M352.3 142.4h0M332.2 148.5h0M378 121.6h0M252.7 217.1h0M282 199.2h0M412.5 108.2h0M247 222.7h0M170.5 242.8h0M384 129.5h0M333.9 147.4h0M259.3 223.9h0M321.6 181.7h0M112.8 274.1h0M110.9 308.1h0M219.4 242.9h0M206 249.5h0M176.7 239.2h0M90.9 279.3h0M278.3 176.3h0M146.5 285.7h0M235.1 233.8h0M151.7 281.3h0M111.1 308.1h0M324.5 154h0M280.7 178.6h0M221.1 241.4h0M437.5 95.3h0M302.1 181.7h0M186 276h0M283.2 198.2h0M308.3 179.6h0" stroke="#c8c8c8" stroke-width="2.9" stroke-linecap="round" fill="none"/>
<path d="M457.2 45.5h0M411 64h0M468.2 72.6h0M442.3 77.4h0M453.8 78.5h0M419 88.4h0M426.5 88.4h0M411.5 93h0M405.3 97.4h0M415.7 97.4h0M400 99.2h0M401 109.6h0M373.8 97.5h0M381.2 92.5h0M396.2 105h0M392 106.2h0M383.8 103.8h0M378 108h0M362 107h0M370.8 113.8h0M366.2 117h0M342.5 110h0M346.2 113.2h0M349.2 108.8h0M355.5 121.2h0M367 124.5h0M345 126.2h0M333.8 129.5h0M321.2 132.5h0M304.5 129.5h0M300 119.2h0M336.2 133.8h0M323.8 137.5h0M338.8 137.5h0M350 135h0M318 140.5h0M322.5 143.8h0M305.5 146.2h0M310 147h0M316.2 149.5h0M300 158.8h0M201.7 147.5h0M97.9 267h0M100.8 275h0M105 274.6h0M107.9 253h0M113.7 257.7h0M108.8 269.8h0M115.6 266h0M120.4 263h0M121.3 260.8h0M126 257.3h0M127.7 255h0M129 253.5h0M132 259h0M135.8 252.5h0M133.8 241h0M137.7 237h0M139.6 237h0M140.6 243.5h0M141.5 253.5h0M136.7 260.8h0M148.3 254.4h0M153 247.3h0M154 242h0M157 239h0M158.8 236h0M157.9 233.3h0M164.6 239h0M168.5 223.7h0M170.4 222.7h0M172.3 225.6h0M160.8 209.2h0M176 220.8h0M178 197.7h0M273.9 171.4h0M185.9 192.5h0M309 153.3h0M123.3 234.2h0M174.9 213.5h0M235 190.7h0M213.1 210.4h0M164.7 209.8h0M223.3 192.5h0M344.6 135h0M278.3 167.2h0M365 117.5h0M299.9 161.4h0M167.9 242.4h0M380.6 104.2h0M202.4 196.1h0M251.2 193.3h0M153.7 228.9h0M179.5 230.6h0M183.5 227.6h0M307.9 156.5h0M253.9 185.1h0M260.7 174.2h0M260.2 177.7h0M172.9 223.3h0M184.2 225.3h0M143.9 255.9h0M355.6 129.1h0M276 153.5h0M229.1 202.2h0M222 193.8h0M319.7 152.2h0M335 134.2h0M346.9 138h0M226 182.7h0M250.5 177.4h0M208.3 187.3h0M279.2 127.2h0M255.5 158.8h0M207.7 176.5h0M308.2 145.9h0M166.5 214.9h0M309.7 157.3h0M250.3 169.6h0M291.1 134.9h0M308.5 136.7h0M185.6 228.4h0M182.5 216.3h0M225 189.6h0M255.4 181.2h0M216 186.1h0M298.4 120h0M205.7 191.5h0M162 236h0M183.7 229.1h0M305.2 158.2h0M127.5 265.5h0M187.2 229.6h0M293.8 148.1h0M283.9 159.8h0M167.2 221h0M154.8 247.8h0M246.1 192h0M209.8 193.8h0M166.5 241.4h0M309.5 147.6h0M335.9 142.8h0M110.7 267.9h0M300.7 155.6h0M218.5 193.9h0M237.5 193.9h0M283.6 170.3h0M113 257.5h0M174.9 205.9h0M158.2 242.4h0M375.9 120.5h0M166.8 242h0M279.6 166.9h0M285.8 162h0M114 266.6h0M300.9 146.1h0M221.1 208.1h0M412.3 82.1h0M294.8 146h0M131.1 261h0M294.8 163.7h0M218.7 206.3h0M200.7 210.9h0M153.2 241h0M388.8 113.8h0M242 184.1h0M236.2 190.5h0M389.7 109h0M295.6 164.3h0M262.2 183.5h0M98.4 280.2h0M215.6 205.5h0M235.8 200.5h0M311.1 153h0M248.8 192.7h0M97.6 279.9h0M255.2 181.6h0M97 282.1h0M196.5 212.7h0M178.4 236.1h0M188.5 225.9h0M394 104.3h0M257.5 178.2h0M224.3 187.1h0M335.3 142.7h0M241.7 195.7h0M300.3 153.4h0M110.8 259.7h0M349.2 127.9h0M141.7 257.2h0M259.1 158h0M312.7 151.6h0M386.7 107.9h0M324.4 148.5h0M355.9 133h0M182.4 230.1h0M388.5 101.7h0M272.4 155.3h0M223.9 206.5h0M216.4 208.3h0M187 225.5h0M369.9 120.2h0M281 169.3h0M296.7 152h0M264.6 181.5h0M216.4 205.1h0M238.5 185.9h0M251.5 192.5h0M238.6 183.8h0M125.1 246.2h0M236.2 193.4h0M386.4 109h0M218.6 207.9h0M157.2 232h0M303.7 161.5h0M278.6 168.1h0M204.5 202.6h0M199.7 218h0M312.2 158h0M220.2 199.4h0M160.9 219.5h0M187 216.5h0M135.7 244.1h0M338.3 142.5h0M108.4 245.1h0M315.4 154h0M266.9 166.6h0M239.9 189.8h0M280.7 172.1h0M308.4 142.1h0M204.5 216.8h0M267.6 175.4h0M287.2 158.9h0M254.8 171.1h0M234.5 187.6h0M122.1 236.1h0M199.7 213.7h0M396.7 105.5h0M158.2 240.7h0M274.3 176.4h0M406 64.6h0M159.2 239.7h0M278.3 167.9h0M191.2 210.3h0M250 188.6h0M193.1 225.9h0M262.2 181.6h0M226.7 202.8h0M294.4 147.4h0M264.2 181.7h0M285.1 147.6h0M275.5 164.1h0M204.7 218.5h0M130.7 256.1h0M108.4 240.2h0M228.9 177.3h0M245.7 178.3h0M374.5 122.3h0M399 82.6h0M299.7 160.9h0M189.6 220.2h0M319.9 148.4h0M266.3 137.3h0M379.8 117.4h0M277.3 174.7h0M354.5 129.8h0M204.8 182.4h0M214.2 194.8h0M363.1 116.3h0M333.8 135.6h0M247.9 185.7h0M102.4 246.7h0M159.7 248h0M255.5 178h0M189.6 226.1h0M230.3 173.3h0M377.8 97.8h0M304.2 135.6h0M157.3 236.3h0M360.5 111.1h0M167 239.8h0M329.2 130.3h0M214.2 195.3h0M119.9 252.7h0M245.4 180.1h0M242.9 188h0M281.6 160.3h0M297.7 144.3h0M335.3 130.2h0M362.7 121.5h0M289.8 152.2h0M170.2 237.8h0M306.1 145.9h0M186 188.6h0M229.5 190.9h0M173.8 229.3h0M132 231.4h0M319.1 153.7h0M356.8 128.1h0M280.5 160.5h0M200.6 196.2h0M327.9 146.2h0M390 98.1h0M179.3 219.2h0M276.2 171.2h0M263.4 181.3h0M192.4 227.4h0M237 199.7h0M231.5 189.3h0M382.2 94.3h0M302.9 162h0M356.5 120.3h0M133.2 260.3h0M254 179.2h0M96.2 257.8h0M225.7 197.6h0M379.1 102.9h0M214.3 173.1h0M287.6 148h0M368.5 126.2h0M372.2 118.4h0M320.9 142.7h0M335.4 136.7h0M112.7 260.3h0M285.4 152.8h0M389.8 100.4h0M209 212.9h0M166.5 242.6h0M365.3 100.7h0M399.2 93.2h0M187.6 208.4h0M306.4 143.6h0M180 221.4h0M301.3 161.3h0M174.4 237h0" stroke="#cc3035" stroke-width="3" stroke-linecap="round" fill="none"/>
<path d="M455.4 108.2h0M457 109.5h0M449.2 113h0M439.5 120h0M442.8 125.4h0M410.4 137.3h0M413.8 136.6h0M402 147h0M374.5 161.2h0M395 163.8h0M400 161.2h0M345.5 170.8h0M333.8 177h0M328 189.2h0M367 181.2h0M370 180h0M365.5 185h0M332.5 202h0M333.8 200.8h0M353.8 203.2h0M326.2 207.5h0M276.5 263.5h0M341 212.5h0M326 207.5h0M328.5 189h0M83 364.6h0M69.8 354.5h0M120 353.8h0M123 345.5h0M164.6 309h0M172.3 320h0M187.7 310.8h0M64.6 346h0M66 350h0M207.3 285.8h0M124.1 310.3h0M204.5 318.1h0M280.1 210.3h0M151.2 289.2h0M101.4 323.4h0M120.7 311h0M71.1 331.8h0M132.3 294.5h0M73.7 343h0M226.2 246.1h0M286.6 224h0M100.9 313.3h0M300.4 215.1h0M191.8 285.7h0M142.6 316.9h0M163.4 303.2h0M104.9 312.3h0M210.9 267.6h0M234.8 239.9h0M141.5 295h0M202.2 289.2h0M94.3 337h0M179.8 276.3h0M239.3 246.5h0M172.1 273.5h0M101.1 340.8h0M84.3 322.5h0M161.9 293.1h0M120.5 318.7h0M111.1 308.8h0M220.1 264.4h0M323.5 182.8h0M87.6 328.4h0M101.9 324.9h0M174.3 276.5h0M93.9 330.2h0M152.3 289.8h0M123.5 299.3h0M120.5 315.3h0M137.5 315.5h0M67.7 360.5h0M240.6 238.5h0M284.4 212.1h0M145.3 286.8h0M118.6 303.7h0M179.6 277.4h0M123.8 300.7h0M165.3 281.2h0M85.4 327.6h0M113.3 315.6h0M129.3 295h0M103.3 333.6h0M191.9 288.7h0M186 274.7h0M228.1 273.8h0M185.7 268.8h0M156.7 286.9h0M171.4 279.3h0M233 244.1h0M177.3 299.6h0M183.9 275.1h0M93.6 325.9h0M126.2 325.3h0M190 287.2h0M182.6 275.6h0M113.5 317.6h0M143.7 297.4h0M115.8 317.2h0M95.7 316h0M129.9 294.9h0M213.1 261.4h0M139.5 288.7h0M112.1 337.4h0M301.7 196.2h0M147.8 305h0M180.8 274h0M153 305.9h0M115 339.9h0M93.4 322.8h0M79.5 330.3h0M163.9 293.8h0M144.2 287.1h0M159.3 296.6h0M173.2 280.9h0M140.3 305.6h0M146.8 305.6h0M137.5 318.3h0M103.2 333.6h0M207.9 269.3h0M71.3 342h0M172.1 276.4h0M139.1 290.8h0M69.9 334.3h0M232.3 245.3h0M182.4 292h0M174.9 278h0M157.5 289.8h0M164.7 274.1h0M178.5 290.7h0M108.8 313.7h0M211.3 270.6h0M137.1 290.1h0M230.2 271.3h0M154.3 295.2h0M162.7 284.8h0M184.6 268.3h0M242.6 234.2h0M110.7 328.1h0M206 261.2h0M189.5 267.8h0M133.5 292.8h0M160.2 298.3h0M127.1 327.2h0M102.8 334.5h0M100.6 314.9h0M167.8 283.4h0M163.9 284.9h0M245.9 233.1h0M234.6 282.2h0M74.7 329.4h0M301.4 199.6h0M129.2 295.2h0M173.2 289.3h0M214.4 256.1h0M98.6 333.4h0M166.6 286h0M162.1 270.8h0M84.6 329.4h0M188.2 279.4h0M129.3 323.3h0M163 282.2h0M175 287.1h0M231.3 261h0M70.8 344.8h0M276.5 227.7h0M244.4 238.9h0M111.3 331.6h0M87 321.9h0M143 318.5h0M113.7 314.4h0M78.6 329.7h0M155.4 277h0M140 293.2h0M105.8 327.9h0M85.9 331.8h0M160.6 282.3h0M130.5 294.1h0M99.3 324.8h0M226.7 294.6h0M127.5 309.6h0M250.2 229.6h0M128.8 305.2h0M319.2 199h0M113.8 307.4h0M90.5 358.4h0M164.6 284.5h0M269.2 233.4h0M288 210.2h0M150.7 315.8h0M92.1 349.3h0M132.6 292.8h0M251.1 236.2h0M101.7 344.9h0M192.3 273.1h0M94.6 316.8h0M165 299.1h0M251.1 238.5h0M325.7 179.9h0M169.1 274.5h0M141.1 320.9h0M161.3 277.7h0M207.6 317.2h0M138.7 289.5h0M142.6 299.6h0M129.4 303.7h0M320.3 192.4h0M143.1 291.9h0M111.3 319.9h0M248.4 229.6h0M72.7 332.9h0M136.2 295.7h0M159 280.9h0M142.1 319.3h0M145.5 297.9h0M155.8 307h0M169.5 280h0M259.6 242h0M212.1 272.1h0M187.9 298.1h0M222.2 254h0M194.2 280.8h0M198.2 269.7h0M95.1 315h0M78.3 335.1h0M155.9 303.7h0M218.7 256.9h0M153.6 306.4h0M100.6 343h0M298.8 197.2h0M186 314.7h0M221.8 260.7h0M116.4 332h0M100.5 322.8h0M226.3 247.2h0M68.9 333.6h0M208.1 269.8h0M225 283.9h0M109.8 331.6h0M313.7 203.3h0M92 349.2h0M191 283.6h0M273.4 246.2h0M133.6 301.1h0M92.6 323.5h0M320.9 202.5h0M132.7 321.9h0M127.7 330.7h0M128.6 312.9h0M293 201.1h0M188.1 315.2h0M147.5 284.1h0M145.8 285.3h0M111.3 312.4h0M132.3 326.7h0M157.3 301.9h0M192.3 268.6h0M85.6 332.7h0M124.3 299.9h0M129.1 306.9h0M112.9 317.7h0M325.2 192.1h0M120.9 326.2h0M84.6 326.7h0M162.9 302.3h0M149.9 291.4h0M220.8 260.5h0M93.8 326.8h0M272.1 252.9h0M165.9 279.8h0M187 274.4h0M138.3 313.6h0M152.5 284.3h0M113.4 311.2h0M124.2 324.2h0M170.6 293h0M103.9 325h0M254.6 250.6h0M118.4 323.6h0M180.8 292.4h0M83.9 323h0M153.4 283.6h0M115.8 321h0M145.3 297.3h0M160.5 281.5h0M142.6 309.1h0M175.8 285.1h0M147.1 287.1h0M248.8 231.7h0M147.6 306.1h0M122.7 312.8h0M97.3 324.4h0M101.6 318.6h0M121.4 301h0M130.3 314.9h0M199.9 294.9h0M164.1 272.5h0M127.7 328.5h0M150.2 285.1h0M146.6 297.9h0M213.7 256h0M275.8 234.5h0M252.9 264.8h0M87.7 321.9h0M199.8 264.9h0M236.8 261.5h0M232.3 256.2h0M180.9 274.7h0M174.8 271.5h0M242.2 278.9h0M171.8 276h0M135.6 312.3h0M225.2 258.6h0M174.6 291.2h0M166.5 280.7h0M116.9 315.3h0M93.5 333.5h0M63.8 341.2h0M175.6 288.4h0M110.5 319.7h0M112.7 313.7h0M130.1 294.7h0M105.5 315.7h0M142.5 311h0M126.4 305h0M131.8 323.7h0M223.5 247.8h0M108.4 316.8h0M190.3 274.2h0M247.5 241.5h0M232.4 242h0M75.1 328.8h0M287.6 234.9h0M82.8 322.4h0M258.2 264.4h0M124.9 316h0M138.5 299.4h0M170.4 292h0M273.2 222.4h0M90 330.9h0M198.4 276.1h0M85.6 328.8h0M257 243.3h0M131.2 305.1h0M200.6 282.1h0M173.4 272.4h0M65.1 352.4h0M231.9 263.1h0M109.2 307.7h0M192.5 268.5h0M139.1 304.7h0M81.3 336h0M80.4 327.3h0M184.5 273.1h0M313.5 187.7h0M187.1 270.9h0M124.2 329.9h0M120.8 327.1h0M123.9 305.7h0M187.3 302.6h0M155.4 285h0M171.6 280.1h0M281.2 208h0M269.7 226.4h0M225.2 260.8h0M160.1 273h0M201.3 271.8h0M73.7 338.7h0M279.8 215.3h0M141.9 287.4h0M181.3 272.1h0M125.4 307.7h0M147.9 284.2h0M165.8 277.3h0M93 318.4h0M116.4 304.3h0M209.8 262.3h0M100.2 312.2h0M173 281.5h0M230.4 267.4h0M200.9 288.7h0M143.8 298.2h0M189.6 275h0M153.3 282.1h0M142.9 304.3h0M169.3 298.9h0M319.4 187.2h0M91.9 322.4h0M142.3 312.4h0M109.8 317.1h0M93.3 320.8h0M169.9 278.7h0M144.7 309.4h0M135.3 297.9h0M172.4 278.6h0M329.8 187.4h0M100.7 339.5h0M151.7 300h0M72.1 330.8h0M247.9 248.8h0M125.5 313.8h0M202.7 261.9h0M306 193.9h0M152.5 284.5h0M78 331.5h0M83.1 336.9h0M163.3 295.2h0M95.9 315.6h0M136.4 318.8h0M96.8 320.9h0M115.6 315.8h0M163.6 270h0M181 278.7h0M243.7 237.6h0M132.4 314h0M184.6 272.4h0M252.3 229h0M200.5 263.8h0M129.1 298.8h0M148.6 312.1h0M135.4 314.4h0M177.6 279.3h0M133.5 301h0M88.4 319.5h0M148.3 309.3h0M183.3 288.6h0M96.6 322.8h0M126.9 317.5h0M144 290.6h0M205 266.2h0M66.5 342.4h0M99 342.8h0M149.5 296h0M189.7 275.4h0M99.1 342.5h0M322.6 266.7h0M211.5 271.7h0M196.6 293.4h0M111.6 311.4h0M70.9 330.7h0M162.1 272.2h0M123.6 303.5h0M194.3 281.8h0M116.4 312.3h0M131.7 314.5h0M213.5 270.9h0M186.9 274.5h0M256.3 227.1h0M154.3 298.7h0M143.4 295.8h0M98.2 344.6h0M164 286.3h0M94 316.5h0M179.9 276.8h0M179.1 271.5h0M151.3 314h0M91.3 316.9h0M239.1 239h0M131.7 297.2h0M154.6 283.6h0M126.2 326.8h0M66.4 352.1h0M164.5 292.6h0M252.9 235.4h0M109.2 316.5h0M197.4 272h0M254.5 226.7h0M171 274h0M97.1 318h0M140 324.5h0M94.2 327h0M147.8 286.5h0M159.4 278.3h0M113.2 307.2h0M164.2 272.1h0M193.1 271.7h0M186.7 273.2h0M311.2 206.9h0M141.1 315.2h0M186.8 266.7h0M143.7 312.5h0M73.4 336h0M118.2 321.6h0M196 279.5h0M208.4 260.4h0M244.5 235.2h0M195.2 308.2h0M120.4 321.3h0M162.8 270.8h0M157 276.7h0M93.8 320.4h0M78 326.9h0M146.1 318.5h0M102 343.7h0M203.3 272.6h0M154.2 280.2h0M111 308.4h0M164.7 271.1h0M91.3 317.7h0M99 331.8h0M83.2 333.2h0M89.8 322.8h0M302.3 203.8h0M187.3 288.5h0M75.3 327.2h0M279.4 222h0M193.5 279.5h0M104.5 319.5h0M149.5 283.7h0M166.4 277h0M118.4 340.8h0M86.6 321.9h0M114.2 305.4h0M257.5 232.9h0M185.2 274.9h0M199.1 265.7h0M124.6 312.5h0M95.8 320.8h0M214.4 268.6h0M83.6 324.4h0M69.3 333.5h0M129.7 303.1h0M93.4 334.5h0M199.6 268h0M213.5 263.5h0M215.1 253.1h0M152.6 280.3h0M76.2 335.5h0M267.8 250.7h0M214.8 265h0M137 309.5h0M101.2 321.1h0M219.9 256.1h0M91.3 318.7h0M107.9 347h0M174.5 283.2h0M129.7 296.8h0M119.1 304.3h0M173.2 307.9h0M72.5 332.2h0M142.3 287.2h0M158.3 305.3h0M203.8 271.9h0M90.7 321.4h0M117.7 314.3h0M99 339.7h0M126.6 303.7h0M219.1 250.9h0M128.1 314.5h0M190.8 275h0M110.4 321.4h0M223.5 256.1h0M138.9 316.4h0M88.3 324.4h0M90.9 318.5h0M105.9 323.9h0M165.1 286.4h0M148.2 284.4h0M154.5 283.6h0M99.4 327.5h0M124.5 316.7h0M151.2 292.3h0M141.1 309.3h0M293.6 202.1h0M256.7 247.1h0M141 297.2h0M113 322h0M98.6 328.1h0M110.7 322.7h0M103.4 321.5h0" stroke="#244a9c" stroke-width="3" stroke-linecap="round" fill="none"/>
<path d="M43.5 29.5H519V381.8" stroke="#b5b5b5" stroke-width="1.2" fill="none"/>
<path d="M43.5 29.5V381.8H519" stroke="#9a9a9a" stroke-width="1.6" fill="none"/>
<path d="M40.7 346.5H43.5M40.7 269.6H43.5M40.7 192.7H43.5M40.7 115.8H43.5M40.7 38.9H43.5M146.2 381.8V384.6M278.5 381.8V384.6M410.8 381.8V384.6" stroke="#333" stroke-width="1.1" fill="none"/>
<text x="39.3" y="350.6" text-anchor="end" font-size="11.5" fill="#111">0</text>
<text x="39.3" y="273.7" text-anchor="end" font-size="11.5" fill="#111">5</text>
<text x="39.3" y="196.8" text-anchor="end" font-size="11.5" fill="#111">10</text>
<text x="39.3" y="119.9" text-anchor="end" font-size="11.5" fill="#111">15</text>
<text x="39.3" y="43" text-anchor="end" font-size="11.5" fill="#111">20</text>
<text x="146.2" y="394.3" text-anchor="middle" font-size="11.5" fill="#111">5</text>
<text x="278.5" y="394.3" text-anchor="middle" font-size="11.5" fill="#111">10</text>
<text x="410.8" y="394.3" text-anchor="middle" font-size="11.5" fill="#111">15</text>
<text x="261.1" y="418.3" text-anchor="middle" font-size="16.6" fill="#000">Average gene expression</text>
<text transform="translate(14.9 205.5) rotate(-90.2)" text-anchor="middle" font-size="16.72" fill="#000">Average gene expression + log2 (fold change)</text>
<text x="0" y="17.8" font-size="25" font-weight="bold" fill="#000">A</text>
<text x="120.6" y="207.4" font-size="10.9" fill="#111" style="stroke-width:.75px">LIN28B</text>
<path d="M157.8 203.8H162" stroke="#222" stroke-width="1"/>
<path d="M63.3 478.2V730.8M57.7 730.8H63.3M57.7 680.3H63.3M57.7 629.8H63.3M57.7 579.2H63.3M57.7 528.7H63.3M57.7 478.2H63.3" stroke="#111" stroke-width="1.2" fill="none"/>
<text transform="translate(50 730.8) rotate(-90)" text-anchor="middle" font-size="13" fill="#111">1</text>
<text transform="translate(50 680.3) rotate(-90)" text-anchor="middle" font-size="13" fill="#111">3</text>
<text transform="translate(50 629.8) rotate(-90)" text-anchor="middle" font-size="13" fill="#111">5</text>
<text transform="translate(50 579.2) rotate(-90)" text-anchor="middle" font-size="13" fill="#111">7</text>
<text transform="translate(50 528.7) rotate(-90)" text-anchor="middle" font-size="13" fill="#111">9</text>
<text transform="translate(50 478.2) rotate(-90)" text-anchor="middle" font-size="13" fill="#111">11</text>
<text transform="translate(22.6 588.5) rotate(-90)" text-anchor="middle" font-size="13.2" fill="#111">log2 <tspan font-style="italic">LIN28B</tspan> expression</text>
<text x="-1.8" y="471.8" font-size="25.5" font-weight="bold" fill="#000">B</text>
<text x="86.8" y="485.6" font-size="16.9" fill="#111">Discovery cohort</text>
<path d="M140 749.5H385.6M140 749.5V755M262.8 749.5V755M385.6 749.5V755" stroke="#111" stroke-width="1.2" fill="none"/>
<text x="140.2" y="768.1" text-anchor="middle" font-size="13.1" fill="#111">Healthy donors</text>
<text x="265.5" y="770.8" text-anchor="middle" font-size="13.35" fill="#111"><tspan font-style="italic">LIN28B</tspan>-low</text>
<text x="388.2" y="767.7" text-anchor="middle" font-size="13.35" fill="#111"><tspan font-style="italic">LIN28B</tspan>-high</text>
<path d="M140 637.3V644.9M140 671.9V681.8" stroke="#111" stroke-width="1.1" stroke-dasharray="2.5 2.6" fill="none"/>
<path d="M114.6 637.3H165.8M114.6 681.8H165.8" stroke="#111" stroke-width="1.3" fill="none"/>
<rect x="90.8" y="644.9" width="98.8" height="27" stroke="#1a1a1a" stroke-width="1.5" fill="none"/>
<path d="M90.8 653.5H189.6" stroke="#000" stroke-width="2.6"/>
<path d="M262.8 639.2V646.8M262.8 670.4V703.8" stroke="#111" stroke-width="1.1" stroke-dasharray="2.5 2.6" fill="none"/>
<path d="M238 639.2H287.7M238 703.8H287.7" stroke="#111" stroke-width="1.3" fill="none"/>
<rect x="213.8" y="646.8" width="98.8" height="23.6" stroke="#1a1a1a" stroke-width="1.5" fill="none"/>
<path d="M213.8 658.2H312.6" stroke="#000" stroke-width="2.6"/>
<path d="M385.4 472.7V503.2M385.4 547V596.9" stroke="#111" stroke-width="1.1" stroke-dasharray="2.5 2.6" fill="none"/>
<path d="M361.8 472.7H410.8M361.8 596.9H410.8" stroke="#111" stroke-width="1.3" fill="none"/>
<rect x="336.5" y="503.2" width="99" height="43.8" stroke="#1a1a1a" stroke-width="1.5" fill="none"/>
<path d="M336.5 510.8H435.5" stroke="#000" stroke-width="2.6"/>
<path d="M132.6 637.3h0M129.6 652.3h0M137.7 653.5h0M130.8 669.6h0M138.2 674.7h0M135.4 681.8h0M266.9 639.2h0M264.2 642h0M269.2 641.5h0M271.5 647.3h0M253.1 646.6h0M269.2 656.5h0M266.9 658.8h0M258.8 664.2h0M269.2 667.6h0M256.5 671h0M255.4 672.7h0M265.8 678h0M253.5 681.5h0M273.4 682h0M269.2 704.3h0M375.5 472.7h0M373.8 481.2h0M388.2 483.8h0M395.8 489.3h0M376.2 490h0M378 501.1h0M375 503.4h0M378.9 504.3h0M385.4 502.7h0M386.1 506.2h0M385.4 509.6h0M397.6 510.8h0M376.2 525.1h0M380.3 525.1h0M385.8 532.2h0M390.5 539.2h0M391.8 547.2h0M390.9 550h0M389.5 552.3h0M388.8 559.7h0M391.2 567.3h0M393.9 593.4h0M377.8 596.6h0" stroke="#000" stroke-width="5.4" stroke-linecap="round" fill="none"/>
<path d="M63.5 825.4V1108.4M56 1108.4H63.5M56 1051.8H63.5M56 995.2H63.5M56 938.6H63.5M56 882H63.5M56 825.4H63.5" stroke="#111" stroke-width="1.2" fill="none"/>
<text transform="translate(45.1 1108.4) rotate(-90)" text-anchor="middle" font-size="12.5" fill="#111">1</text>
<text transform="translate(45.1 1051.8) rotate(-90)" text-anchor="middle" font-size="12.5" fill="#111">3</text>
<text transform="translate(45.1 995.2) rotate(-90)" text-anchor="middle" font-size="12.5" fill="#111">5</text>
<text transform="translate(45.1 938.6) rotate(-90)" text-anchor="middle" font-size="12.5" fill="#111">7</text>
<text transform="translate(45.1 882) rotate(-90)" text-anchor="middle" font-size="12.5" fill="#111">9</text>
<text transform="translate(45.1 825.4) rotate(-90)" text-anchor="middle" font-size="12.5" fill="#111">11</text>
<text transform="translate(10.2 953.6) rotate(-90)" text-anchor="middle" font-size="13.2" fill="#111">log2 <tspan font-style="italic">LIN28B</tspan> expression</text>
<text x="-1.8" y="820.4" font-size="25.5" font-weight="bold" fill="#000">C</text>
<text x="92" y="831.5" font-size="16.6" fill="#111">Validation cohort</text>
<path d="M148.3 1151.5H422.8M148.3 1151.5V1159M285.7 1151.5V1159M422.8 1151.5V1159" stroke="#111" stroke-width="1.2" fill="none"/>
<text x="149.1" y="1177" text-anchor="middle" font-size="12.8" fill="#111">Healthy donors</text>
<text x="288.1" y="1179.6" text-anchor="middle" font-size="13.5" fill="#111"><tspan font-style="italic">LIN28B</tspan>-low</text>
<text x="425.2" y="1176.7" text-anchor="middle" font-size="13.5" fill="#111"><tspan font-style="italic">LIN28B</tspan>-high</text>
<path d="M148.4 1019.2V1036.9M148.4 1048.5V1059.5" stroke="#111" stroke-width="1.1" stroke-dasharray="2.5 2.6" fill="none"/>
<path d="M120.4 1019.2H176.5M120.4 1059.5H176.5" stroke="#111" stroke-width="1.3" fill="none"/>
<rect x="93.6" y="1036.9" width="110.1" height="11.6" stroke="#1a1a1a" stroke-width="1.5" fill="none"/>
<path d="M93.6 1043.2H203.7" stroke="#000" stroke-width="2.6"/>
<path d="M285.6 1017.5V1034.5M285.6 1046.8V1058.8" stroke="#111" stroke-width="1.1" stroke-dasharray="2.5 2.6" fill="none"/>
<path d="M258 1017.5H313.8M258 1058.8H313.8" stroke="#111" stroke-width="1.3" fill="none"/>
<rect x="230.5" y="1034.5" width="110.8" height="12.2" stroke="#1a1a1a" stroke-width="1.5" fill="none"/>
<path d="M230.5 1038.2H341.2" stroke="#000" stroke-width="2.6"/>
<path d="M422.7 872.7V914.4M422.7 971.2V1004" stroke="#111" stroke-width="1.1" stroke-dasharray="2.5 2.6" fill="none"/>
<path d="M395 872.7H451M395 1004H451" stroke="#111" stroke-width="1.3" fill="none"/>
<rect x="368" y="914.4" width="110.2" height="56.8" stroke="#1a1a1a" stroke-width="1.5" fill="none"/>
<path d="M368 932.7H478.2" stroke="#000" stroke-width="2.6"/>
<path d="M148.1 1019.2h0M152.7 1034.6h0M161.2 1036.5h0M136.5 1039.7h0M157.3 1042.7h0M149.2 1048h0M156.6 1047.3h0M158.9 1048.5h0M156.8 1059.5h0M287 1017.5h0M274.5 1031.2h0M278.8 1030h0M281.2 1033h0M277 1035h0M291.2 1034.5h0M293 1037.5h0M295 1038.8h0M273.8 1038.8h0M276.2 1040h0M272.5 1045.8h0M281.2 1046.2h0M296.2 1047h0M298 1049.5h0M278.8 1055h0M280 1058h0M282 1058.8h0M427.5 872.7h0M426.2 895.8h0M410.9 901.2h0M428.1 912.5h0M414.6 914.7h0M421.4 918.4h0M420.5 924.6h0M423.2 933.2h0M410.6 940.8h0M419.5 951.5h0M417.3 955h0M430.8 971.2h0M424.6 977.9h0M430.2 989.2h0M412.5 1000.5h0M420.5 1004.6h0" stroke="#000" stroke-width="5.4" stroke-linecap="round" fill="none"/>
</svg></body></html>
